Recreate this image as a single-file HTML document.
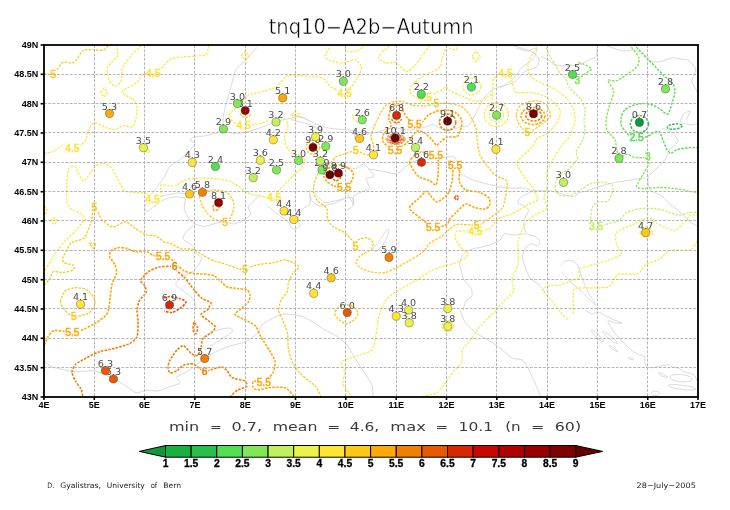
<!DOCTYPE html>
<html lang="en"><head><meta charset="utf-8"><title>tnq10-A2b-Autumn</title>
<style>
html,body{margin:0;padding:0;background:#fff;}
body{width:730px;height:510px;overflow:hidden;}
svg{display:block;}
.thin{font-family:"DejaVu Sans","Liberation Sans",sans-serif;}
.lib{font-family:"Liberation Sans","DejaVu Sans",sans-serif;}
.st{font-family:"DejaVu Sans","Liberation Sans",sans-serif;font-size:9.2px;fill:#4a4a4a;text-anchor:middle;}
.cl{font-family:"Liberation Sans","DejaVu Sans",sans-serif;font-weight:normal;font-size:10.2px;text-anchor:middle;stroke-width:0.55px;}
.ax{font-family:"Liberation Sans","DejaVu Sans",sans-serif;font-weight:bold;font-size:9px;fill:#000;}
.cb{font-family:"Liberation Sans","DejaVu Sans",sans-serif;font-weight:bold;font-size:10.3px;fill:#000;text-anchor:middle;}
.c{fill:none;stroke-dasharray:2.5 1.25;stroke-linecap:butt;stroke-linejoin:round;}
.g{fill:none;stroke:#cfcfcf;stroke-width:0.8;}
.grid{stroke:#b0b0b0;stroke-width:0.9;stroke-dasharray:2.8 1.5;fill:none;}
</style></head><body>
<svg width="730" height="510" viewBox="0 0 730 510">
<rect width="730" height="510" fill="#fff"/>
<defs><clipPath id="pc"><rect x="44" y="45" width="654" height="352"/></clipPath></defs>
<g clip-path="url(#pc)">
<path class="g" d="M257.0 47.4C255.7 48.8 248.3 57.1 245.9 59.7C243.5 62.3 237.6 67.0 236.0 69.6C234.4 72.2 233.3 78.6 232.3 82.0C231.3 85.4 228.4 95.3 227.4 99.0C226.4 102.7 224.3 110.8 223.7 114.0C223.1 117.2 223.2 123.8 222.5 126.0C221.8 128.2 219.7 131.3 217.5 132.5C215.3 133.7 206.9 135.4 204.0 136.0C201.1 136.6 194.6 136.8 193.0 137.4C191.4 138.0 190.1 140.3 190.4 141.0C190.7 141.7 195.4 142.4 195.3 143.6C195.2 144.8 191.1 149.1 189.2 151.0C187.3 152.9 181.6 158.1 179.3 160.0C177.0 161.9 171.1 165.0 169.4 167.0C167.7 169.0 165.9 174.7 164.5 177.0C163.1 179.3 158.7 184.7 157.0 187.0C155.3 189.3 151.1 194.7 149.7 197.0C148.3 199.3 145.1 205.0 144.8 206.7C144.5 208.4 145.9 211.9 147.3 211.6C148.7 211.3 155.9 204.9 157.0 204.0"/>
<path class="g" d="M227.4 132.5C228.7 132.6 235.5 134.0 238.5 133.7C241.5 133.4 249.9 131.0 253.3 130.0C256.7 129.0 265.1 126.0 268.0 125.0C270.9 124.0 275.7 121.7 278.0 121.0C280.3 120.3 285.2 119.5 287.8 119.0C290.4 118.5 297.4 116.1 300.0 116.4C302.6 116.7 308.8 120.8 310.0 121.4"/>
<path class="g" d="M290.0 114.7C291.7 115.1 301.6 117.3 304.7 118.4C307.8 119.5 314.1 123.4 317.0 124.5C319.9 125.6 326.4 127.6 329.3 128.2C332.2 128.8 338.7 129.1 341.6 129.4C344.5 129.7 351.4 130.1 354.0 130.7C356.6 131.3 360.9 134.2 363.8 134.4C366.7 134.6 375.3 132.7 378.6 132.0C381.9 131.3 388.3 128.2 392.0 128.0C395.7 127.8 406.1 130.1 410.0 130.0C413.9 129.9 422.8 127.6 425.5 127.0C428.2 126.4 430.9 124.2 432.9 124.5C434.9 124.8 440.4 128.8 442.7 129.4C445.0 130.0 450.6 129.7 452.6 129.4C454.6 129.1 458.0 127.6 460.0 127.0C462.0 126.4 467.2 127.4 470.0 124.0C472.8 120.6 481.0 102.2 484.0 98.0C487.0 93.8 492.5 89.8 496.0 88.0C499.5 86.2 510.4 84.6 513.7 82.7C517.0 80.8 521.3 73.9 524.0 72.0C526.7 70.1 535.3 68.4 537.0 66.7C538.7 65.0 539.5 59.7 538.6 57.8C537.7 55.9 533.0 52.2 529.7 50.7C526.4 49.2 512.3 45.7 510.0 45.0"/>
<path class="g" d="M291.0 119.6C293.2 120.2 306.0 123.2 309.6 124.5C313.2 125.8 320.6 130.0 322.0 130.7"/>
<path class="g" d="M354.0 134.4 L355.2 139.3"/>
<path class="g" d="M340.4 164.0C342.0 164.6 351.3 169.0 354.0 169.0C356.7 169.0 362.1 164.0 363.8 164.0C365.5 164.0 367.6 167.6 368.8 169.0C370.0 170.4 374.0 175.2 373.7 176.3C373.4 177.4 366.7 177.4 366.3 178.8C365.9 180.2 370.3 187.2 370.0 188.6C369.7 190.0 365.7 190.1 363.8 191.0C361.9 191.9 355.3 194.3 354.0 196.0C352.7 197.7 353.6 204.3 352.7 205.9C351.8 207.5 347.3 209.5 346.6 210.0"/>
<path class="g" d="M368.8 169.0C370.5 169.3 380.4 170.8 383.6 171.4C386.8 172.0 393.6 174.1 395.9 173.8C398.2 173.5 401.3 170.4 403.3 169.0C405.3 167.6 410.1 162.7 413.0 161.5C415.9 160.3 424.5 159.4 428.0 159.0C431.5 158.6 439.6 158.0 442.7 157.8C445.8 157.6 452.8 155.7 454.8 157.4C456.8 159.1 457.7 169.4 459.7 172.0C461.7 174.6 468.5 178.1 472.0 179.6C475.5 181.1 485.3 183.5 489.3 184.5C493.3 185.5 502.6 187.6 506.6 188.0C510.6 188.4 520.6 187.7 523.8 188.0C527.0 188.3 530.8 190.4 533.7 190.7C536.6 191.0 545.9 190.5 548.5 190.7C551.1 190.9 554.2 191.6 555.9 192.0C557.6 192.4 561.1 193.8 563.3 194.4C565.5 195.0 572.7 197.0 574.4 196.8C576.1 196.6 576.4 193.7 578.0 193.0C579.6 192.3 585.7 191.4 588.0 190.7C590.3 190.0 594.9 187.9 597.8 187.0C600.7 186.1 608.8 183.8 612.6 183.0C616.4 182.2 626.2 180.6 630.0 180.0C633.8 179.4 643.2 178.2 645.0 178.0"/>
<path class="g" d="M309.6 193.6C309.9 194.5 310.9 199.6 312.0 201.0C313.1 202.4 316.8 205.6 319.4 205.9C322.0 206.2 331.3 204.3 334.2 203.4C337.1 202.5 342.9 199.1 344.0 198.5"/>
<path class="g" d="M159.6 196.8C160.7 196.5 167.1 194.8 169.4 194.4C171.7 194.0 177.3 193.0 179.3 193.0C181.3 193.0 186.0 193.8 186.7 194.4C187.4 195.0 186.7 197.7 185.5 198.0C184.3 198.3 179.2 196.6 176.8 196.8C174.4 197.0 167.1 198.1 164.5 199.3C161.9 200.5 155.8 205.8 154.7 206.7"/>
<path class="g" d="M185.5 199.3C185.3 200.5 183.8 206.9 184.2 209.2C184.6 211.5 187.9 217.3 189.2 219.0C190.5 220.7 193.6 223.1 195.3 224.0C197.0 224.9 201.8 226.4 204.0 226.4C206.2 226.4 211.5 224.6 213.8 224.0C216.1 223.4 221.4 221.5 223.7 221.5C226.0 221.5 231.3 224.1 233.6 224.0C235.9 223.9 241.4 221.5 243.4 220.3C245.4 219.1 250.2 215.6 250.8 214.0C251.4 212.4 247.7 208.4 248.3 206.7C248.9 205.0 254.3 200.7 255.7 199.3C257.1 197.9 260.1 195.0 260.7 194.4"/>
<path class="g" d="M195.3 224.0C194.3 224.9 188.1 229.7 186.7 231.4C185.3 233.1 182.3 237.1 183.0 238.8C183.7 240.5 191.3 244.5 192.9 246.2C194.5 247.9 195.6 252.2 196.6 253.6C197.6 255.0 201.4 257.1 201.5 258.5C201.6 259.9 198.9 264.3 197.8 265.9C196.7 267.5 194.1 270.6 192.0 272.0C189.9 273.4 181.9 276.5 180.0 278.0C178.1 279.5 175.3 283.2 176.0 285.0C176.7 286.8 183.9 291.2 186.0 293.0C188.1 294.8 192.8 298.2 194.0 300.0C195.2 301.8 195.8 307.1 196.0 308.0"/>
<path class="g" d="M266.8 205.5C268.1 206.5 275.4 212.1 277.9 214.0C280.3 215.9 286.1 219.8 287.8 221.5C289.5 223.2 291.3 228.4 292.7 229.0C294.1 229.6 299.4 227.6 300.0 226.4C300.6 225.2 297.4 221.0 297.7 219.0C298.0 217.0 301.2 210.8 302.6 209.0C304.0 207.2 309.2 206.2 310.0 204.0C310.8 201.8 309.6 191.6 309.6 190.0"/>
<path class="g" d="M314.5 192.5C315.7 193.6 321.5 201.4 324.4 202.3C327.3 203.2 336.0 200.5 339.2 199.9C342.4 199.3 349.8 196.8 351.5 197.4C353.2 198.0 354.6 205.4 354.0 204.8C353.4 204.2 347.5 193.9 346.6 192.5"/>
<path class="g" d="M372.5 249.0C373.2 248.2 376.9 244.1 378.6 241.8C380.3 239.5 386.0 230.4 387.2 229.4C388.4 228.4 388.9 231.3 388.5 233.0C388.1 234.7 385.1 241.8 383.6 244.0C382.1 246.2 377.3 251.0 376.0 251.6C374.7 252.2 372.9 249.3 372.5 249.0"/>
<path class="g" d="M533.7 190.7C532.3 191.4 523.3 195.4 521.4 196.8C519.5 198.2 517.4 202.0 517.7 203.0C518.0 204.0 522.5 204.6 523.8 205.5C525.1 206.4 528.7 209.0 528.8 210.4C528.9 211.8 525.6 216.2 525.0 217.8C524.4 219.4 523.6 222.1 523.8 224.0C524.0 225.9 525.0 232.4 526.3 233.8C527.6 235.2 533.4 235.4 535.0 236.3C536.6 237.2 539.6 240.1 539.9 241.2C540.2 242.3 538.4 245.7 537.4 246.0C536.4 246.3 532.6 243.4 531.2 243.7C529.8 244.0 526.0 246.9 525.0 248.6C524.0 250.3 522.4 256.0 522.6 258.5C522.8 261.0 525.4 267.7 526.3 270.0C527.2 272.3 528.6 276.4 530.0 278.0C531.4 279.6 536.2 282.4 538.0 284.0C539.8 285.6 544.2 291.1 545.0 292.0"/>
<path class="g" d="M525.0 233.8C523.7 233.9 516.5 235.0 514.0 235.0C511.6 235.0 505.6 233.2 504.0 233.8C502.4 234.4 502.1 238.7 500.4 240.0C498.7 241.3 492.3 244.0 489.3 245.0C486.3 246.0 477.1 247.9 474.5 248.6C471.9 249.3 468.4 250.1 467.0 251.0C465.6 251.9 463.1 254.6 462.2 256.0C461.3 257.4 459.8 261.8 459.7 263.4C459.6 265.0 460.5 268.1 461.0 270.0C461.5 271.9 462.8 277.9 464.0 280.0C465.2 282.1 470.1 286.1 471.0 288.0C471.9 289.9 472.6 294.5 472.0 296.0C471.4 297.5 467.1 299.4 466.0 301.0C464.9 302.6 463.4 308.9 463.0 310.0"/>
<path class="g" d="M560.8 265.9C561.4 265.3 564.3 261.6 565.7 261.0C567.1 260.4 571.6 260.4 573.0 261.0C574.4 261.6 577.0 263.9 578.0 265.9C579.0 267.9 580.8 275.0 582.0 278.0C583.2 281.0 586.4 288.9 588.0 292.0C589.6 295.1 595.8 304.1 596.0 305.0C596.2 305.9 591.9 301.8 590.0 300.0C588.1 298.2 582.3 292.1 580.0 290.0C577.7 287.9 572.1 284.1 570.0 282.0C567.9 279.9 562.9 273.2 562.0 272.0"/>
<path class="g" d="M460.0 310.0C460.6 311.4 463.1 319.3 465.0 322.0C466.9 324.7 473.3 330.9 476.0 333.0C478.7 335.1 485.2 338.2 488.0 340.0C490.8 341.8 497.2 345.9 500.0 348.0C502.8 350.1 509.4 356.6 512.0 358.0C514.6 359.4 520.1 358.8 522.0 360.0C523.9 361.2 526.5 365.3 528.0 368.0C529.5 370.7 533.5 379.6 535.0 383.0C536.5 386.4 540.3 395.4 541.0 397.0"/>
<path class="g" d="M45.0 361.6C45.9 362.2 49.4 365.9 52.5 367.0C55.6 368.1 68.5 370.9 72.0 371.4C75.5 371.9 80.0 371.4 82.7 371.4C85.4 371.4 91.8 370.3 95.0 371.0C98.2 371.7 106.4 375.3 110.0 377.0C113.6 378.7 122.5 383.9 125.5 385.7C128.5 387.5 133.5 392.3 136.0 392.8C138.5 393.3 144.4 390.2 146.9 390.0C149.4 389.8 154.8 391.4 157.5 391.0C160.2 390.6 167.4 387.5 170.0 386.6C172.6 385.7 179.2 384.1 180.0 383.0C180.8 381.9 175.8 378.5 177.0 377.0C178.2 375.5 187.3 371.8 190.0 370.0C192.7 368.2 197.1 364.1 200.0 362.0C202.9 359.9 211.5 353.9 215.0 352.0C218.5 350.1 226.5 347.2 230.0 346.0C233.5 344.8 241.7 343.5 245.0 342.0C248.3 340.5 256.0 335.0 258.0 333.0C260.0 331.0 260.0 326.9 262.0 325.0C264.0 323.1 272.3 318.3 275.0 317.0C277.7 315.7 282.1 314.1 285.0 314.0C287.9 313.9 297.1 315.3 300.0 316.0C302.9 316.7 307.1 318.4 310.0 320.0C312.9 321.6 321.9 328.1 325.0 330.0C328.1 331.9 334.4 334.2 337.0 336.0C339.6 337.8 344.8 342.2 347.0 345.0C349.2 347.8 354.0 356.9 356.0 360.0C358.0 363.1 362.1 369.1 364.0 372.0C365.9 374.9 370.9 382.1 372.0 385.0C373.1 387.9 372.9 395.6 373.0 397.0"/>
<path class="g" d="M205.0 350.0C206.8 348.8 216.8 342.1 220.0 340.0C223.2 337.9 230.8 333.4 232.0 332.0C233.2 330.6 231.6 328.2 230.0 328.0C228.4 327.8 220.9 329.1 218.0 330.0C215.1 330.9 207.3 334.6 205.0 336.0C202.7 337.4 198.8 341.3 198.0 342.0"/>
<path class="g" d="M585.0 310.0C585.8 310.5 590.5 313.8 592.0 314.0C593.5 314.2 596.4 311.8 598.0 312.0C599.6 312.2 604.1 315.1 606.0 316.0C607.9 316.9 612.1 319.2 614.0 320.0C615.9 320.8 621.8 322.6 622.0 323.0C622.2 323.4 617.6 323.2 616.0 323.0C614.4 322.8 608.4 320.2 608.0 321.0C607.6 321.8 611.2 327.9 612.6 330.0C614.0 332.1 618.1 336.9 620.0 339.0C621.9 341.1 627.2 346.4 629.0 348.0C630.8 349.6 633.2 351.6 635.0 352.6C636.8 353.7 642.8 355.8 644.0 357.0C645.2 358.2 644.6 361.8 645.0 363.0C645.4 364.2 646.1 366.5 647.0 367.0C647.9 367.5 651.4 367.8 653.0 367.7C654.6 367.6 659.0 366.4 660.8 366.0C662.6 365.6 667.1 364.6 668.4 364.7C669.7 364.8 671.0 366.6 672.0 367.0C673.0 367.4 676.1 367.2 677.4 367.7C678.7 368.2 681.5 370.5 683.4 371.4C685.3 372.3 692.4 373.9 694.0 375.0C695.6 376.1 696.6 380.3 697.0 381.0"/>
<path class="g" d="M692.4 379.3C692.2 379.5 691.4 380.7 690.8 381.0C690.1 381.3 687.7 381.8 686.5 381.9C685.4 382.0 682.2 381.9 680.8 381.8C679.5 381.7 676.4 381.1 675.3 380.7C674.2 380.4 671.9 379.4 671.3 379.0C670.7 378.6 669.9 377.5 670.0 377.1C670.0 376.7 671.0 375.7 671.6 375.4C672.3 375.1 674.7 374.6 675.9 374.5C677.0 374.4 680.2 374.5 681.6 374.6C682.9 374.7 686.0 375.3 687.1 375.7C688.2 376.0 690.5 377.0 691.1 377.4C691.7 377.8 692.3 379.1 692.4 379.3"/>
<path class="g" d="M667.2 377.2C667.0 377.2 666.1 377.4 665.5 377.2C665.0 377.1 663.0 376.3 662.2 376.0C661.5 375.6 659.6 374.5 659.2 374.2C658.7 373.8 658.1 373.0 658.2 372.8C658.3 372.7 659.3 372.6 659.9 372.8C660.4 372.9 662.4 373.7 663.2 374.0C663.9 374.4 665.8 375.5 666.2 375.8C666.7 376.2 667.1 377.0 667.2 377.2"/>
<path class="g" d="M695.9 389.1C695.6 389.2 694.7 389.8 693.9 389.9C693.1 390.0 690.1 390.0 688.7 389.9C687.3 389.9 683.4 389.5 681.7 389.3C680.1 389.1 676.2 388.4 674.8 388.1C673.4 387.8 670.6 387.0 669.8 386.7C669.1 386.4 668.1 385.7 668.1 385.5C668.1 385.3 669.3 384.8 670.1 384.7C670.9 384.6 673.9 384.6 675.3 384.7C676.7 384.7 680.6 385.1 682.3 385.3C683.9 385.5 687.8 386.2 689.2 386.5C690.6 386.8 693.4 387.6 694.2 387.9C694.9 388.2 695.7 389.0 695.9 389.1"/>
<path class="g" d="M659.7 393.3C659.6 393.5 659.0 394.6 658.5 394.9C658.0 395.1 656.2 395.5 655.5 395.5C654.8 395.5 653.0 395.1 652.5 394.9C652.0 394.6 651.3 393.7 651.3 393.3C651.3 392.9 652.0 392.0 652.5 391.7C653.0 391.5 654.8 391.1 655.5 391.1C656.2 391.1 658.0 391.5 658.5 391.7C659.0 392.0 659.6 393.1 659.7 393.3"/>
<path class="g" d="M603.5 342.0C603.2 341.9 601.8 341.6 601.0 341.0C600.1 340.5 597.4 338.1 596.4 337.1C595.4 336.2 593.0 333.4 592.4 332.6C591.9 331.7 591.3 330.2 591.5 330.0C591.6 329.8 593.2 330.4 594.0 331.0C594.9 331.5 597.6 333.9 598.6 334.9C599.6 335.8 602.0 338.6 602.6 339.4C603.1 340.3 603.4 341.7 603.5 342.0"/>
<path class="g" d="M617.4 343.5C617.1 343.4 615.5 343.2 614.5 342.6C613.5 342.1 610.2 339.7 609.0 338.7C607.8 337.8 604.8 335.0 604.1 334.2C603.3 333.3 602.4 331.7 602.6 331.5C602.8 331.3 604.5 331.8 605.5 332.4C606.5 332.9 609.8 335.3 611.0 336.3C612.2 337.2 615.2 340.0 615.9 340.8C616.7 341.7 617.2 343.2 617.4 343.5"/>
<path class="g" d="M618.0 351.9C617.8 351.9 616.9 351.8 616.4 351.5C615.8 351.2 613.7 350.1 613.0 349.5C612.2 349.0 610.4 347.6 609.9 347.1C609.5 346.7 608.9 345.8 609.0 345.7C609.0 345.6 610.1 345.8 610.6 346.1C611.2 346.4 613.3 347.5 614.0 348.1C614.8 348.6 616.6 350.0 617.1 350.5C617.5 350.9 617.9 351.7 618.0 351.9"/>
<path class="g" d="M633.7 359.4C633.5 359.4 632.6 359.7 632.2 359.6C631.7 359.5 629.9 359.0 629.5 358.8C629.0 358.6 628.3 357.9 628.3 357.8C628.4 357.6 629.4 357.5 629.8 357.6C630.3 357.7 632.1 358.2 632.5 358.4C633.0 358.6 633.5 359.3 633.7 359.4"/>
<path class="g" d="M516.4 48.2C517.7 48.5 525.0 51.0 527.4 51.0C529.8 51.0 536.4 47.1 537.0 48.0C537.6 48.9 534.6 56.7 532.9 59.0C531.1 61.3 524.2 65.1 522.0 67.4C519.8 69.7 516.3 76.0 513.7 78.4C511.1 80.8 501.6 86.9 500.0 88.0"/>
<path class="g" d="M541.0 56.4C542.0 56.9 547.7 59.5 549.3 60.5C550.9 61.5 552.9 64.1 554.8 64.7C556.7 65.3 562.9 66.0 565.8 66.0C568.7 66.0 576.9 65.3 579.5 64.7C582.1 64.1 585.8 61.5 587.7 60.5C589.6 59.5 594.8 58.1 595.9 56.4C597.0 54.7 597.1 47.2 597.3 46.0"/>
<path class="g" d="M606.8 46.0C608.7 46.6 619.9 50.5 623.3 51.0C626.7 51.5 633.1 48.9 636.0 50.0C638.9 51.1 645.3 59.1 648.0 60.5C650.7 61.9 656.1 62.3 659.0 62.0C661.9 61.7 670.1 58.1 672.6 57.8C675.1 57.4 678.9 58.7 680.8 59.0C682.7 59.3 687.2 59.2 689.0 60.5C690.8 61.8 695.6 67.6 695.9 70.0C696.2 72.4 691.8 78.7 691.8 81.0C691.8 83.3 695.1 87.7 695.9 89.3C696.7 90.9 698.6 94.3 699.0 95.0"/>
<path class="g" d="M686.3 119.5C686.8 118.5 690.7 111.6 690.4 111.0C690.1 110.4 684.7 112.7 683.6 114.0C682.5 115.3 679.8 120.7 680.8 122.0C681.8 123.3 689.7 124.9 691.8 125.0C693.9 125.1 698.2 123.2 699.0 123.0"/>
<path class="g" d="M661.6 127.7C662.9 128.3 670.7 131.4 672.6 133.0C674.5 134.6 678.3 139.5 678.0 141.4C677.7 143.3 671.5 147.4 669.9 149.6C668.3 151.8 666.1 158.1 664.4 160.5C662.7 162.9 656.9 168.0 655.0 170.0C653.1 172.0 648.6 175.7 648.0 178.0C647.4 180.3 648.4 187.9 650.0 190.0C651.6 192.1 659.7 194.4 662.0 196.0C664.3 197.6 667.9 202.1 670.0 204.0C672.1 205.9 677.7 209.9 680.0 212.0C682.3 214.1 688.0 220.4 690.0 222.0C692.0 223.6 696.2 225.5 697.0 226.0"/>
<path class="c" stroke="#FFC818" stroke-width="1.3" d="M44.0 74.0C45.1 74.0 51.3 74.7 53.0 74.0C54.7 73.3 56.6 69.9 57.8 68.5C59.0 67.1 61.1 63.0 63.0 62.3C64.9 61.6 71.6 63.7 74.0 62.3C76.4 60.9 80.4 52.2 82.7 50.7C85.0 49.2 91.0 49.8 93.4 49.8C95.8 49.8 101.3 50.7 103.0 50.3C104.7 49.9 107.0 47.0 107.7 46.2C108.4 45.4 108.8 44.3 109.0 44.0"/>
<path class="c" stroke="#FFC818" stroke-width="1.3" d="M44.0 285.0C44.7 284.3 48.7 280.4 49.8 278.8C50.9 277.2 51.8 272.4 53.4 271.6C55.0 270.8 60.6 272.7 63.0 272.5C65.4 272.3 71.7 270.9 73.0 270.0C74.3 269.1 74.9 266.3 73.8 265.4C72.7 264.5 65.3 263.7 64.0 262.7C62.7 261.7 62.2 259.8 63.0 257.4C63.8 255.0 68.4 245.4 71.0 243.0C73.6 240.6 82.0 240.6 84.5 237.8C87.0 235.0 90.6 223.1 91.6 220.0C92.6 216.9 92.2 213.6 92.5 212.0C92.8 210.4 93.5 206.8 94.3 207.0C95.1 207.2 97.8 212.1 98.8 213.7C99.8 215.3 100.6 218.4 102.3 220.0C104.0 221.6 110.2 226.8 113.0 227.0C115.8 227.2 122.7 221.6 125.5 221.8C128.3 222.0 133.4 227.4 136.0 229.0C138.6 230.6 144.5 234.2 146.9 235.0C149.3 235.8 153.7 235.1 155.8 236.0C157.9 236.9 163.0 241.5 164.7 242.3C166.4 243.1 168.1 242.3 170.0 243.0C171.9 243.7 177.9 247.7 180.7 248.5C183.5 249.3 190.2 248.5 193.0 249.4C195.8 250.3 201.2 254.2 203.8 255.6C206.4 257.0 211.7 259.9 214.5 261.0C217.3 262.1 224.0 263.5 227.0 264.5C230.0 265.5 237.3 268.5 239.5 269.0C241.7 269.5 243.9 269.2 245.2 269.0C246.5 268.8 248.3 267.5 250.0 267.0C251.7 266.5 256.2 265.0 259.0 264.5C261.8 264.0 270.3 263.2 273.3 262.7C276.3 262.2 281.6 260.0 284.0 260.0C286.4 260.0 291.2 261.9 293.0 262.7C294.8 263.5 299.0 265.7 299.0 267.0C299.0 268.3 294.3 271.6 293.0 273.4C291.7 275.2 289.1 280.2 288.4 282.3C287.7 284.4 288.4 288.9 287.5 291.0C286.6 293.1 282.4 297.7 281.3 300.0C280.2 302.3 278.5 307.7 278.6 310.0C278.7 312.3 281.1 316.2 282.2 319.0C283.3 321.8 286.8 329.4 287.5 333.0C288.2 336.6 287.7 345.4 288.4 349.0C289.1 352.6 291.6 360.5 293.0 363.4C294.4 366.3 298.1 370.9 300.0 373.0C301.9 375.1 307.1 379.4 309.0 381.0C310.9 382.6 314.6 384.9 316.0 386.6C317.4 388.3 319.9 394.0 320.5 395.5C321.1 397.0 320.9 398.6 321.0 399.0"/>
<path class="c" stroke="#FFC818" stroke-width="1.3" d="M60.5 302.0C60.5 299.7 63.2 292.7 65.0 291.0C66.8 289.3 73.0 287.9 75.6 287.7C78.2 287.5 84.2 288.4 86.3 289.5C88.4 290.6 92.3 294.9 93.4 296.6C94.5 298.3 95.4 302.1 95.2 303.7C95.0 305.3 92.5 308.8 91.6 310.0C90.7 311.2 89.5 312.9 88.0 313.6C86.5 314.3 80.7 315.7 79.0 316.0C77.3 316.3 75.0 316.4 73.8 316.2C72.6 316.0 70.5 315.2 69.4 314.5C68.3 313.8 66.1 311.5 65.0 310.0C63.9 308.5 60.5 304.3 60.5 302.0Z"/>
<path class="c" stroke="#FFC818" stroke-width="1.3" d="M199.4 196.0C199.5 197.5 201.1 203.0 202.0 205.0C202.9 207.0 205.6 211.3 207.0 213.0C208.4 214.7 212.3 217.9 214.0 219.0C215.7 220.1 219.7 221.4 221.0 221.8C222.3 222.2 224.2 222.6 225.2 222.3C226.2 222.0 228.1 220.5 229.0 219.5C229.9 218.5 231.7 215.5 232.3 213.7C232.9 211.9 234.1 206.7 234.0 204.8C233.9 202.9 232.2 199.2 231.4 197.7C230.6 196.2 228.6 193.2 227.0 192.3C225.4 191.4 220.3 190.5 218.0 190.3C215.7 190.1 210.0 190.0 208.0 190.3C206.0 190.6 202.5 191.8 201.5 192.5C200.5 193.2 199.3 194.5 199.4 196.0Z"/>
<path class="c" stroke="#FFC818" stroke-width="1.3" d="M355.6 151.0C354.6 150.9 353.1 151.2 351.6 151.6C350.1 152.0 344.6 153.9 342.7 154.5C340.8 155.1 336.7 156.2 335.4 157.0C334.1 157.8 333.1 160.0 332.0 161.2C330.9 162.4 327.7 165.5 326.0 167.0C324.3 168.5 319.5 171.7 318.2 173.5C316.9 175.3 315.4 179.4 314.8 181.7C314.2 184.0 313.0 190.0 313.4 192.3C313.8 194.6 316.2 199.1 317.8 201.0C319.4 202.9 325.5 206.1 326.7 208.4C327.9 210.7 326.7 217.8 327.6 220.0C328.5 222.2 331.8 225.5 333.8 227.0C335.8 228.5 342.4 231.0 344.5 232.5C346.6 234.0 350.3 238.3 351.6 239.6C352.9 240.9 354.1 243.5 355.0 243.5C355.9 243.5 357.4 240.3 358.8 239.6C360.2 238.9 365.1 237.5 366.8 237.8C368.5 238.1 372.5 240.9 373.0 242.3C373.5 243.7 372.5 247.8 371.0 249.4C369.5 251.0 362.3 254.0 360.5 255.6C358.7 257.2 355.8 261.1 356.0 262.7C356.2 264.3 360.0 267.8 362.3 269.0C364.6 270.2 372.0 272.1 374.8 272.5C377.6 272.9 383.0 273.0 385.5 272.5C388.0 272.0 393.0 269.5 396.0 268.0C399.0 266.5 407.2 261.9 410.4 260.0C413.6 258.1 420.5 254.0 422.9 252.0C425.3 250.0 427.9 244.8 430.0 243.0C432.1 241.2 438.3 238.7 440.7 237.0C443.1 235.3 447.7 230.5 449.6 229.0C451.5 227.5 454.1 225.0 456.7 224.5C459.3 224.0 468.6 224.9 471.0 225.0C473.4 225.1 475.4 225.5 476.7 225.3C478.0 225.1 480.4 224.2 481.6 223.6C482.8 223.0 485.3 221.2 487.0 220.0C488.7 218.8 494.0 215.3 495.9 213.7C497.8 212.1 501.7 209.4 503.0 206.6C504.3 203.8 506.2 193.6 506.6 190.5C507.0 187.4 507.9 182.6 506.6 180.8C505.3 179.0 498.3 177.2 495.9 175.4C493.5 173.6 488.9 168.0 487.0 165.6C485.1 163.2 481.1 158.0 479.9 155.0C478.7 152.0 477.6 143.7 477.2 140.7C476.8 137.7 476.8 132.5 476.3 130.0C475.8 127.5 473.9 122.3 472.7 120.0C471.5 117.7 467.7 112.1 466.3 110.5C464.9 108.9 462.5 107.3 460.9 106.5C459.3 105.7 454.9 104.2 452.6 103.8C450.3 103.4 444.1 103.2 441.6 103.3C439.1 103.4 434.1 104.2 432.0 104.5C429.9 104.8 426.1 105.8 423.8 105.9C421.5 106.0 415.3 105.7 412.8 105.2C410.3 104.7 405.3 101.9 403.2 101.5C401.1 101.1 396.9 101.2 395.0 101.5C393.1 101.8 388.8 103.3 387.2 104.4C385.6 105.5 383.1 108.6 381.8 110.7C380.5 112.8 377.4 119.2 376.3 121.6C375.2 124.0 373.0 129.2 372.4 131.0C371.8 132.8 370.9 135.5 371.0 137.0C371.1 138.5 372.7 142.0 373.0 143.6C373.3 145.2 374.2 148.6 373.6 150.0C373.0 151.4 369.3 154.7 367.7 155.0C366.1 155.3 361.5 152.7 360.0 152.2C358.5 151.7 356.6 151.1 355.6 151.0Z"/>
<path class="c" stroke="#FFC818" stroke-width="1.3" d="M334.7 313.6C334.7 315.0 336.9 317.8 338.3 319.0C339.7 320.2 344.3 324.0 346.3 324.0C348.3 324.0 353.6 320.2 355.0 319.0C356.4 317.8 357.9 314.9 357.9 313.6C357.9 312.3 356.3 309.1 355.0 308.0C353.7 306.9 349.0 304.6 347.0 304.5C345.0 304.4 339.5 306.4 338.0 307.5C336.5 308.6 334.7 312.2 334.7 313.6Z"/>
<path class="c" stroke="#FFC818" stroke-width="1.3" d="M516.3 114.7C516.5 113.0 517.6 108.5 519.0 107.0C520.4 105.5 525.6 102.7 528.0 102.0C530.4 101.3 536.7 100.6 539.0 101.0C541.3 101.4 545.6 103.9 547.0 105.5C548.4 107.1 550.3 113.1 550.5 114.7C550.7 116.3 549.6 117.7 548.5 118.8C547.4 119.9 543.5 122.8 541.6 124.2C539.7 125.6 534.4 129.4 532.7 130.4C531.0 131.4 528.7 132.7 527.3 132.3C525.9 131.9 522.2 128.4 521.0 127.0C519.8 125.6 518.1 122.5 517.5 121.0C516.9 119.5 516.1 116.4 516.3 114.7Z"/>
<path class="c" stroke="#FFC818" stroke-width="1.3" d="M319.8 147.4C319.8 148.4 319.1 150.6 318.5 151.4C317.9 152.2 316.0 153.6 315.1 153.9C314.2 154.2 311.8 154.2 310.9 153.9C310.0 153.6 308.1 152.2 307.5 151.4C306.9 150.6 306.2 148.4 306.2 147.4C306.2 146.4 306.9 144.2 307.5 143.4C308.1 142.6 310.0 141.2 310.9 140.9C311.8 140.6 314.2 140.6 315.1 140.9C316.0 141.2 317.9 142.6 318.5 143.4C319.1 144.2 319.8 146.4 319.8 147.4Z"/>
<path class="c" stroke="#FFE534" stroke-width="1.2" d="M116.4 44.0C116.4 44.2 116.5 44.6 116.6 46.0C116.7 47.4 118.6 53.5 117.5 56.0C116.4 58.5 108.8 63.9 107.7 66.7C106.6 69.5 107.7 76.8 108.6 79.2C109.5 81.6 113.3 86.1 114.8 86.3C116.3 86.5 120.0 83.4 121.0 81.0C122.0 78.6 121.4 69.9 122.8 66.7C124.2 63.5 130.4 56.8 132.6 54.2C134.8 51.6 140.4 46.2 141.5 45.0C142.6 43.8 141.9 44.1 142.0 44.0"/>
<path class="c" stroke="#FFE534" stroke-width="1.2" d="M44.0 153.0C45.2 152.8 51.7 152.4 54.0 151.4C56.3 150.4 60.8 145.4 63.0 145.0C65.2 144.6 70.2 147.8 72.4 147.8C74.6 147.8 79.3 146.1 81.0 145.0C82.7 143.9 85.5 140.8 86.3 139.0C87.1 137.2 87.0 131.9 88.0 130.0C89.0 128.1 93.1 123.2 95.0 122.8C96.9 122.4 101.6 126.2 104.0 127.0C106.4 127.8 112.4 129.7 114.8 129.5C117.2 129.3 121.6 125.8 123.7 125.5C125.8 125.2 131.1 127.9 132.6 127.0C134.1 126.1 135.5 120.3 136.0 118.0C136.5 115.7 137.2 109.8 137.0 107.7C136.8 105.6 136.1 102.2 134.4 100.5C132.7 98.8 124.1 94.7 122.8 93.4C121.5 92.1 122.1 91.2 123.7 90.0C125.3 88.8 133.7 84.9 136.0 83.0C138.3 81.1 141.0 75.2 143.0 74.0C145.0 72.8 150.8 73.7 153.0 73.0C155.2 72.3 159.0 70.1 161.0 68.5C163.0 66.9 167.6 61.0 170.0 59.6C172.4 58.2 177.7 57.4 180.7 57.0C183.7 56.6 192.0 56.2 195.0 56.0C198.0 55.8 204.0 55.8 205.6 55.0C207.2 54.2 207.9 50.3 208.3 49.0C208.7 47.7 208.9 44.6 209.0 44.0"/>
<path class="c" stroke="#FFE534" stroke-width="1.2" d="M330.0 44.0C329.9 44.5 330.0 46.6 329.4 48.0C328.8 49.4 324.9 54.5 325.0 56.0C325.1 57.5 327.9 59.7 330.0 60.5C332.1 61.3 339.7 63.1 342.7 63.0C345.7 62.9 352.8 59.2 355.0 59.6C357.2 60.0 360.9 64.8 361.4 66.7C361.9 68.6 360.0 73.2 358.8 75.6C357.6 78.0 353.3 84.2 351.6 86.3C349.9 88.4 346.3 93.0 344.5 93.4C342.7 93.8 338.2 90.8 336.5 89.9C334.8 89.0 331.6 87.7 330.0 86.3C328.4 84.9 325.3 79.5 323.0 78.3C320.7 77.1 313.5 76.8 310.7 76.5C307.9 76.2 302.8 75.7 300.0 75.6C297.2 75.5 290.3 74.3 287.5 75.6C284.7 76.9 279.9 84.4 276.9 86.3C273.9 88.2 266.0 90.5 262.6 91.6C259.2 92.7 251.1 93.7 248.4 95.2C245.7 96.7 242.4 101.5 240.0 104.0C237.6 106.5 229.3 113.3 228.8 115.7C228.3 118.1 234.1 122.5 235.9 123.7C237.7 124.9 241.6 125.4 243.5 125.5C245.4 125.6 249.7 124.9 252.0 124.6C254.3 124.3 260.5 123.4 262.6 122.8C264.7 122.2 268.8 120.3 269.7 120.0"/>
<path class="c" stroke="#FFE534" stroke-width="1.2" d="M284.0 118.4C284.5 119.1 287.4 122.6 287.8 124.0C288.2 125.4 287.4 128.7 287.0 130.0C286.6 131.3 284.8 133.4 284.6 135.0C284.4 136.6 284.9 141.6 285.3 143.3C285.7 145.0 287.1 148.3 288.0 149.5C288.9 150.7 291.6 152.8 293.0 153.5C294.4 154.2 298.6 154.8 300.0 155.5C301.4 156.2 304.1 158.2 304.5 159.5C304.9 160.8 304.4 164.0 303.0 166.0C301.6 168.0 295.2 173.8 292.8 176.2C290.4 178.6 284.9 184.2 283.2 185.9C281.5 187.6 279.7 189.1 278.6 190.5C277.5 191.9 275.5 196.9 274.0 197.7C272.5 198.5 268.4 197.1 266.0 196.8C263.6 196.5 256.2 195.6 253.7 195.0C251.2 194.4 246.5 192.4 244.8 191.4C243.1 190.4 241.2 188.2 239.5 187.0C237.8 185.8 233.2 182.6 230.6 181.6C228.0 180.6 221.4 179.4 218.0 179.0C214.6 178.6 205.6 178.0 202.0 178.0C198.4 178.0 190.1 178.6 187.8 179.0C185.5 179.4 183.8 180.9 182.5 181.6C181.2 182.3 178.5 184.5 177.0 185.0C175.5 185.5 171.9 186.0 170.0 186.0C168.1 186.0 162.1 183.8 161.0 185.0C159.9 186.2 162.0 194.3 161.0 196.0C160.0 197.7 154.4 199.9 152.5 199.5C150.6 199.1 148.2 194.0 145.0 193.0C141.8 192.0 128.7 193.0 125.5 191.4C122.3 189.8 120.1 182.9 118.4 180.0C116.7 177.1 112.8 169.4 111.0 167.4C109.2 165.4 104.9 163.1 103.0 163.0C101.1 162.9 97.3 164.4 95.0 166.5C92.7 168.6 86.0 180.8 83.6 180.8C81.2 180.8 76.5 167.9 74.7 166.5C72.9 165.1 69.5 167.0 68.5 169.0C67.5 171.0 66.9 179.6 66.7 183.4C66.5 187.2 66.2 197.9 66.7 201.0C67.2 204.1 69.3 207.5 71.0 209.0C72.7 210.5 79.3 212.5 81.0 213.7C82.7 214.9 85.2 218.0 85.4 219.0C85.6 220.0 83.9 220.6 82.7 222.0C81.5 223.4 78.0 228.2 75.6 230.7C73.2 233.2 65.6 240.0 63.0 243.0C60.4 246.0 56.3 252.1 54.0 255.6C51.7 259.1 45.2 270.0 44.0 272.0"/>
<path class="c" stroke="#FFE534" stroke-width="1.2" d="M342.7 44.0C343.3 44.9 346.3 50.8 348.0 51.6C349.7 52.4 355.1 51.4 357.0 50.7C358.9 50.0 363.0 46.8 364.0 46.0C365.0 45.2 364.9 44.2 365.0 44.0"/>
<path class="c" stroke="#FFE534" stroke-width="1.2" d="M392.6 44.0C391.5 44.8 385.4 49.0 383.7 50.7C382.0 52.4 378.2 56.3 378.4 57.8C378.6 59.3 383.4 62.4 385.5 63.0C387.6 63.6 393.5 62.0 396.0 63.0C398.5 64.0 404.3 71.4 406.7 71.6C409.1 71.8 413.7 66.7 415.6 64.7C417.5 62.7 420.8 57.2 422.4 55.0C424.0 52.8 428.4 47.5 429.3 46.2C430.2 44.9 429.9 44.3 430.0 44.0"/>
<path class="c" stroke="#FFE534" stroke-width="1.2" d="M458.5 44.0C458.2 44.7 457.0 49.0 456.0 49.5C455.0 50.0 451.2 48.8 450.0 48.5C448.8 48.2 447.3 45.9 446.4 47.0C445.5 48.1 442.9 55.7 442.3 57.8C441.7 59.9 441.6 63.3 441.0 64.7C440.4 66.1 439.2 68.3 437.5 69.5C435.8 70.7 429.2 72.9 426.6 74.3C424.0 75.7 417.5 79.7 415.6 81.2C413.7 82.7 411.5 85.3 410.8 86.6C410.1 87.9 409.6 90.8 410.0 92.0C410.4 93.2 412.9 95.4 414.2 96.2C415.5 97.0 419.5 98.1 421.0 98.3C422.5 98.5 425.7 98.2 427.0 97.8C428.3 97.4 430.2 95.8 432.0 94.9C433.8 94.0 439.9 91.0 441.6 90.0C443.3 89.0 444.8 86.5 445.8 86.6C446.8 86.7 448.3 89.8 449.9 90.8C451.5 91.8 456.9 93.7 459.5 94.9C462.1 96.1 469.3 99.7 471.8 100.4C474.3 101.1 478.3 101.1 480.0 100.8C481.7 100.5 484.6 98.8 486.0 98.0C487.4 97.2 490.8 95.4 491.6 94.0C492.4 92.6 492.7 88.2 493.0 86.3C493.3 84.4 492.5 79.9 494.0 78.3C495.5 76.7 503.7 73.0 505.7 73.0C507.7 73.0 510.0 76.5 511.0 78.3C512.0 80.1 513.0 86.3 513.7 88.0C514.4 89.7 514.8 91.9 517.0 92.5C519.2 93.1 528.7 92.3 532.0 92.7C535.3 93.1 541.8 95.0 544.4 96.2C547.0 97.4 552.1 100.6 554.0 102.3C555.9 104.0 559.3 108.7 560.0 110.5C560.7 112.3 560.1 115.6 559.5 117.4C558.9 119.2 556.2 123.6 554.7 125.6C553.2 127.6 549.1 132.3 547.0 133.8C544.9 135.3 539.4 136.3 537.5 138.0C535.6 139.7 533.9 144.9 531.5 147.8C529.1 150.7 518.4 158.8 517.3 162.0C516.2 165.2 520.7 171.3 522.6 174.5C524.5 177.7 531.5 185.8 533.3 188.8C535.1 191.8 538.3 197.6 537.7 199.5C537.1 201.4 530.2 203.5 528.0 204.8C525.8 206.1 521.2 208.8 519.0 210.0C516.8 211.2 512.6 213.5 510.0 214.6C507.4 215.7 500.0 217.4 497.7 219.0C495.4 220.6 492.2 226.6 490.5 228.0C488.8 229.4 485.2 230.3 483.4 230.7C481.6 231.1 477.3 231.6 475.4 231.6C473.5 231.6 469.6 230.7 467.4 230.7C465.2 230.7 458.2 230.7 456.7 231.6C455.2 232.5 454.6 236.0 455.0 237.8C455.4 239.6 458.7 244.7 460.3 246.7C461.9 248.7 468.5 252.9 468.3 254.7C468.1 256.5 461.8 260.3 458.5 261.8C455.2 263.3 444.1 265.8 440.7 267.0C437.3 268.2 433.0 270.0 430.0 271.6C427.0 273.2 419.4 278.4 415.8 280.5C412.2 282.6 403.1 287.4 399.7 289.5C396.3 291.6 389.5 295.9 387.3 298.4C385.1 300.9 382.1 307.5 381.0 310.0C379.9 312.5 379.0 315.8 378.4 319.0C377.8 322.2 376.5 333.0 375.7 336.7C374.9 340.4 374.0 347.8 372.0 350.0C370.0 352.2 362.4 354.0 358.8 355.4C355.2 356.8 343.6 359.6 341.9 361.6C340.2 363.6 344.4 369.7 344.5 372.3C344.6 374.9 342.6 381.1 342.7 383.0C342.8 384.9 344.4 386.9 345.4 388.4C346.4 389.9 350.0 394.2 350.8 395.5C351.6 396.8 351.9 398.6 352.0 399.0"/>
<path class="c" stroke="#FFE534" stroke-width="1.2" d="M508.5 114.6C508.5 116.0 507.6 119.4 506.9 120.6C506.2 121.8 503.7 124.3 502.5 125.0C501.3 125.7 497.9 126.6 496.5 126.6C495.1 126.6 491.7 125.7 490.5 125.0C489.3 124.3 486.8 121.8 486.1 120.6C485.4 119.4 484.5 116.0 484.5 114.6C484.5 113.2 485.4 109.8 486.1 108.6C486.8 107.4 489.3 104.9 490.5 104.2C491.7 103.5 495.1 102.6 496.5 102.6C497.9 102.6 501.3 103.5 502.5 104.2C503.7 104.9 506.2 107.4 506.9 108.6C507.6 109.8 508.5 113.2 508.5 114.6Z"/>
<path class="c" stroke="#FFE534" stroke-width="1.2" d="M699.0 238.0C698.8 238.4 698.0 239.6 697.0 241.0C696.0 242.4 693.7 248.5 690.4 249.7C687.1 250.9 673.0 249.5 669.3 250.7C665.6 251.9 662.5 257.7 659.7 259.3C656.9 260.9 648.9 262.3 646.3 264.0C643.7 265.7 641.2 272.4 637.7 273.7C634.2 275.0 621.1 273.1 617.5 274.7C613.9 276.3 612.8 285.4 608.0 287.0C603.2 288.6 581.5 287.4 577.3 288.0C573.1 288.6 573.9 288.9 573.4 292.0C572.9 295.1 573.4 311.4 573.4 314.0"/>
<path class="c" stroke="#FFE534" stroke-width="1.2" d="M352.5 114.0C352.7 114.6 353.3 118.0 354.0 119.0C354.7 120.0 357.5 122.1 358.0 122.5"/>
<path class="c" stroke="#FFE534" stroke-width="1.2" d="M492.3 94.0C492.3 94.7 492.1 98.6 492.0 100.0C491.9 101.4 491.6 105.3 491.5 106.0"/>
<path class="c" stroke="#FFE534" stroke-width="1.2" d="M44.0 206.0C44.3 206.3 46.2 207.8 46.5 208.5C46.8 209.2 47.1 211.3 46.8 212.0C46.5 212.7 44.3 213.8 44.0 214.0"/>
<path class="c" stroke="#ECF248" stroke-width="1.2" d="M537.5 44.0C537.4 44.4 537.6 45.6 536.9 47.0C536.2 48.4 532.6 53.8 531.5 56.0C530.4 58.2 528.2 62.6 528.0 65.0C527.8 67.4 528.2 73.5 529.7 75.6C531.2 77.7 537.6 81.2 540.4 82.7C543.2 84.2 549.9 86.3 552.9 88.0C555.9 89.7 562.6 94.4 565.0 96.8C567.4 99.2 571.8 105.0 573.0 107.8C574.2 110.6 575.5 116.7 575.2 120.0C574.9 123.3 572.0 132.2 570.4 135.2C568.8 138.2 564.1 142.2 562.2 144.8C560.3 147.4 556.6 153.4 554.7 156.7C552.8 160.0 547.5 169.5 546.6 172.7C545.7 175.9 547.8 180.4 547.5 183.4C547.2 186.4 544.1 194.7 544.0 197.7C543.9 200.7 547.5 206.5 546.6 208.4C545.7 210.3 539.1 212.3 536.9 213.7C534.7 215.1 529.9 217.7 528.0 220.0C526.1 222.3 522.0 229.7 520.8 232.5C519.6 235.3 518.3 239.2 518.0 243.0C517.7 246.8 518.7 260.2 518.0 264.5C517.3 268.8 512.5 275.6 512.0 278.8C511.5 282.0 514.6 288.5 513.7 291.0C512.8 293.5 506.8 297.7 504.8 300.0C502.8 302.3 498.9 307.7 496.8 310.0C494.7 312.3 489.5 316.4 487.0 319.0C484.5 321.6 478.5 328.5 476.3 331.4C474.1 334.3 470.0 340.8 468.3 343.0C466.6 345.2 462.8 347.8 462.0 350.0C461.2 352.2 463.1 358.9 462.0 361.6C460.9 364.3 455.2 369.5 453.0 372.3C450.8 375.1 445.9 382.3 444.0 384.8C442.1 387.3 438.7 391.6 437.0 392.8C435.3 394.0 431.6 394.2 430.0 394.6C428.4 395.0 425.4 395.5 424.0 396.0C422.6 396.5 418.7 398.6 418.0 399.0"/>
<path class="c" stroke="#ECF248" stroke-width="1.2" d="M699.0 215.0C697.9 215.1 691.5 214.9 690.0 215.5C688.5 216.1 687.5 219.0 686.6 220.0C685.7 221.0 684.1 222.5 682.7 223.8C681.3 225.1 677.1 230.1 675.0 230.5C672.9 230.9 667.3 228.4 665.0 227.5C662.7 226.6 658.0 224.2 656.0 223.0C654.0 221.8 650.3 217.8 648.0 217.8C645.7 217.8 640.5 221.1 636.7 222.9C632.9 224.7 619.0 229.8 616.6 232.5C614.2 235.2 616.0 242.4 616.6 245.0C617.2 247.6 622.7 252.6 621.4 254.5C620.1 256.4 611.0 259.3 606.0 261.0C601.0 262.7 583.2 267.0 580.0 269.0C576.8 271.0 581.4 275.6 579.0 277.5C576.6 279.4 563.8 284.0 560.0 285.0C556.2 286.0 549.5 285.3 547.5 286.0C545.5 286.7 542.6 289.3 543.0 291.0C543.4 292.7 549.2 297.8 551.0 300.0C552.8 302.2 556.0 306.6 558.0 309.0C560.0 311.4 566.5 318.3 567.7 319.6"/>
<path class="c" stroke="#ECF248" stroke-width="1.2" d="M481.0 86.4C481.0 87.6 480.0 90.5 479.3 91.5C478.5 92.4 476.0 94.2 474.8 94.6C473.6 95.0 470.4 95.0 469.2 94.6C468.0 94.2 465.5 92.4 464.7 91.5C464.0 90.5 463.0 87.6 463.0 86.4C463.0 85.2 464.0 82.3 464.7 81.3C465.5 80.4 468.0 78.6 469.2 78.2C470.4 77.8 473.6 77.8 474.8 78.2C476.0 78.6 478.5 80.4 479.3 81.3C480.0 82.3 481.0 85.2 481.0 86.4Z"/>
<path class="c" stroke="#ECF248" stroke-width="1.2" d="M453.5 326.4C453.5 327.4 452.5 329.7 451.8 330.4C451.1 331.1 448.8 332.1 447.8 332.1C446.8 332.1 444.5 331.1 443.8 330.4C443.1 329.7 442.1 327.4 442.1 326.4C442.1 325.4 443.1 323.1 443.8 322.4C444.5 321.7 446.8 320.7 447.8 320.7C448.8 320.7 451.1 321.7 451.8 322.4C452.5 323.1 453.5 325.4 453.5 326.4Z"/>
<path class="c" stroke="#ECF248" stroke-width="1.2" d="M503.7 115.0C503.7 116.0 502.9 118.4 502.3 119.2C501.7 120.1 499.7 121.5 498.7 121.8C497.8 122.2 495.2 122.2 494.3 121.8C493.3 121.5 491.3 120.1 490.7 119.2C490.1 118.4 489.3 116.0 489.3 115.0C489.3 114.0 490.1 111.6 490.7 110.8C491.3 109.9 493.3 108.5 494.3 108.2C495.2 107.8 497.8 107.8 498.7 108.2C499.7 108.5 501.7 109.9 502.3 110.8C502.9 111.6 503.7 114.0 503.7 115.0Z"/>
<path class="c" stroke="#C0F060" stroke-width="1.2" d="M545.0 44.0C545.1 44.4 545.1 45.3 545.8 47.0C546.5 48.7 549.7 55.4 551.0 57.8C552.3 60.2 555.3 64.9 556.4 66.7C557.5 68.5 558.9 71.6 560.0 73.0C561.1 74.4 564.6 76.6 565.8 78.4C567.0 80.2 567.8 85.5 569.6 88.0C571.4 90.5 579.2 97.0 581.0 99.5C582.8 102.0 584.6 106.5 585.0 109.0C585.4 111.5 584.0 118.0 584.0 120.5C584.0 123.0 585.1 127.7 585.0 130.0C584.9 132.3 584.0 137.1 583.0 139.6C582.0 142.1 577.0 148.7 576.3 151.0C575.6 153.3 578.1 156.7 577.3 158.8C576.5 160.9 571.2 166.8 569.6 168.4C568.0 170.0 565.2 171.0 563.8 172.0C562.4 173.0 559.0 175.7 558.0 177.0C557.0 178.3 555.9 181.4 555.6 183.0C555.3 184.6 555.3 188.5 555.8 190.0C556.3 191.5 558.1 194.9 560.0 195.5C561.9 196.1 569.0 195.7 571.5 195.0C574.0 194.3 578.7 190.9 581.0 189.5C583.3 188.1 588.2 184.6 590.7 183.7C593.2 182.8 599.5 181.9 602.0 182.0C604.5 182.1 610.5 183.6 611.8 184.7C613.1 185.8 613.2 189.4 612.7 191.4C612.2 193.4 609.7 199.7 608.0 201.0C606.3 202.3 600.2 201.3 598.4 202.0C596.6 202.7 593.5 204.5 592.6 206.7C591.7 208.9 590.3 217.6 590.7 220.0C591.1 222.4 594.4 226.1 596.0 226.7C597.6 227.3 601.4 225.5 604.0 224.8C606.6 224.1 614.7 222.5 617.5 221.0C620.3 219.5 624.2 214.0 627.0 212.5C629.8 211.0 637.0 209.1 640.5 208.6C644.0 208.1 652.8 208.3 656.0 208.6C659.2 208.9 664.6 210.7 667.4 211.5C670.2 212.3 676.2 215.2 679.0 215.3C681.8 215.4 688.0 212.8 690.4 212.5C692.8 212.2 698.0 212.5 699.0 212.5"/>
<path class="c" stroke="#80E858" stroke-width="1.4" d="M574.5 81.5C574.8 81.4 576.0 81.2 577.3 80.3C578.6 79.4 583.3 75.0 585.0 73.6C586.7 72.2 591.8 70.0 591.6 68.8C591.4 67.6 584.8 64.8 583.0 64.0C581.2 63.2 577.7 62.7 577.0 62.5"/>
<path class="c" stroke="#80E858" stroke-width="1.4" d="M630.0 44.0C630.1 44.3 630.0 45.1 631.0 46.7C632.0 48.3 637.9 54.9 638.6 57.3C639.3 59.7 639.2 64.1 636.7 66.9C634.2 69.7 620.9 78.7 617.5 80.3C614.1 81.9 608.5 78.9 608.0 80.3C607.5 81.7 613.6 88.6 613.7 91.8C613.8 95.0 609.9 103.6 609.0 107.0C608.1 110.4 606.2 117.7 606.0 120.5C605.8 123.3 606.1 127.9 607.0 130.0C607.9 132.1 612.7 136.6 613.7 138.0C614.7 139.4 615.3 140.3 615.6 141.5C615.9 142.7 616.2 146.0 616.6 148.0C617.0 150.0 617.8 157.3 619.0 158.0C620.2 158.7 625.3 154.1 627.0 154.0C628.7 153.9 631.0 156.4 632.9 156.9C634.8 157.4 640.7 157.9 642.5 157.8C644.3 157.7 647.0 155.2 647.8 155.9C648.6 156.6 649.4 161.7 649.0 163.6C648.6 165.5 645.6 169.8 644.4 172.0C643.2 174.2 639.5 179.9 638.6 181.8C637.7 183.7 636.0 186.7 636.7 187.5C637.4 188.3 641.6 188.5 644.4 188.5C647.2 188.5 656.0 187.5 659.7 187.5C663.4 187.5 671.3 188.0 675.0 188.5C678.7 189.0 687.5 190.9 690.4 191.4C693.3 191.9 698.0 192.4 699.0 192.5"/>
<path class="c" stroke="#50E050" stroke-width="1.4" d="M635.0 44.0C635.1 44.3 634.2 44.9 635.8 46.7C637.4 48.5 644.7 55.5 648.0 59.0C651.3 62.5 660.6 72.5 663.6 75.5C666.6 78.5 671.6 82.0 673.0 84.0C674.4 86.0 675.1 89.5 675.0 91.8C674.9 94.1 672.9 100.6 672.0 103.3C671.1 106.0 669.2 113.5 667.8 114.2C666.4 114.9 662.0 110.5 660.3 109.4C658.6 108.3 655.4 106.0 653.4 105.3C651.4 104.6 646.3 103.5 643.8 103.5C641.3 103.5 635.2 104.5 632.9 105.3C630.6 106.1 626.1 108.6 624.7 110.0C623.3 111.4 621.6 115.2 621.2 117.0C620.8 118.8 620.7 123.3 621.2 125.0C621.7 126.7 624.2 130.0 625.3 131.3C626.4 132.6 628.7 135.2 630.0 136.0C631.3 136.8 634.5 137.5 636.5 137.6C638.5 137.7 644.7 137.3 646.6 136.8C648.5 136.3 651.2 134.1 652.7 133.4C654.2 132.7 657.8 130.5 659.0 131.3C660.2 132.1 662.0 138.0 663.0 140.2C664.0 142.4 666.0 148.2 667.0 149.8C668.0 151.4 670.0 153.2 671.2 153.2C672.4 153.2 674.7 150.5 676.7 149.8C678.7 149.1 685.0 148.0 687.7 147.7C690.4 147.4 697.6 147.7 699.0 147.7"/>
<path class="c" stroke="#28C048" stroke-width="1.4" d="M648.7 124.0C648.7 125.5 647.1 129.0 646.0 130.1C644.9 131.1 641.1 132.6 639.5 132.6C637.9 132.6 634.1 131.1 633.0 130.1C631.9 129.0 630.3 125.5 630.3 124.0C630.3 122.5 631.9 119.0 633.0 117.9C634.1 116.9 637.9 115.4 639.5 115.4C641.1 115.4 644.9 116.9 646.0 117.9C647.1 119.0 648.7 122.5 648.7 124.0Z"/>
<path class="c" stroke="#28C048" stroke-width="1.4" d="M682.1 125.6C682.2 126.0 681.5 126.9 680.9 127.3C680.3 127.7 678.3 128.4 677.3 128.7C676.3 128.9 673.7 129.2 672.7 129.2C671.7 129.2 669.5 129.0 668.9 128.7C668.2 128.5 667.3 127.8 667.3 127.4C667.2 127.0 667.9 126.1 668.5 125.7C669.1 125.3 671.1 124.6 672.1 124.3C673.1 124.1 675.7 123.8 676.7 123.8C677.7 123.8 679.9 124.0 680.5 124.3C681.2 124.5 682.1 125.2 682.1 125.6Z"/>
<path class="c" stroke="#FFA808" stroke-width="1.6" d="M389.6 112.2C390.0 110.8 391.2 107.9 392.0 107.0C392.8 106.1 395.5 105.0 396.6 105.0C397.7 105.0 400.1 106.1 401.0 107.0C401.9 107.9 402.9 110.8 403.7 112.2C404.5 113.6 406.3 117.1 407.6 118.5C408.9 119.9 412.9 123.6 414.7 124.0C416.5 124.4 420.9 122.6 422.5 121.6C424.1 120.6 426.4 116.6 428.0 115.4C429.6 114.2 433.5 112.2 435.8 111.5C438.1 110.8 444.4 109.7 446.8 109.9C449.2 110.1 454.4 111.8 456.2 113.0C458.0 114.2 461.1 118.1 461.7 120.0C462.3 121.9 461.5 126.7 460.9 128.7C460.3 130.7 458.7 135.5 457.0 136.5C455.3 137.5 448.8 136.6 446.8 137.3C444.8 138.0 441.7 141.1 440.5 142.0C439.3 142.9 437.7 145.6 436.6 145.2C435.5 144.8 432.6 140.4 431.1 138.9C429.6 137.4 425.8 133.5 424.1 132.6C422.4 131.7 418.2 130.8 417.0 131.0C415.8 131.2 415.0 132.9 413.9 134.2C412.8 135.5 408.8 140.7 407.6 142.0C406.4 143.3 405.2 144.2 403.7 145.2C402.2 146.2 397.2 150.0 395.1 150.0C393.0 150.0 388.0 146.3 386.5 145.2C385.0 144.1 382.9 141.7 382.5 140.5C382.1 139.3 382.8 136.3 383.3 135.0C383.8 133.7 386.1 131.1 387.0 130.0C387.9 128.9 391.0 127.0 391.2 125.6C391.4 124.2 389.0 120.1 388.8 118.5C388.6 116.9 389.2 113.6 389.6 112.2Z"/>
<path class="c" stroke="#FFA808" stroke-width="1.6" d="M409.5 162.0C409.5 163.8 412.8 169.2 414.0 171.0C415.2 172.8 417.4 175.8 419.3 177.0C421.2 178.2 428.0 179.8 430.0 180.8C432.0 181.8 435.0 185.8 436.0 185.0C437.0 184.2 437.7 177.3 438.0 174.5C438.3 171.7 438.7 164.3 438.5 162.0C438.3 159.7 437.3 156.1 436.0 155.0C434.7 153.9 429.8 153.4 428.0 153.0C426.2 152.6 422.7 151.6 421.0 152.0C419.3 152.4 415.4 154.8 414.0 156.0C412.6 157.2 409.5 160.2 409.5 162.0Z"/>
<path class="c" stroke="#FFA808" stroke-width="1.6" d="M454.6 164.7C455.4 164.8 458.8 168.0 459.4 170.0C460.0 172.0 458.7 179.2 459.4 181.6C460.1 184.0 463.1 188.4 465.6 189.7C468.1 191.0 477.1 191.3 479.9 192.3C482.7 193.3 487.6 196.2 488.8 197.7C490.0 199.2 490.1 203.4 489.7 204.8C489.3 206.2 487.0 208.7 485.2 209.0C483.4 209.3 476.9 208.1 474.5 207.5C472.1 206.9 467.7 203.5 465.6 204.0C463.5 204.5 458.6 210.2 456.7 212.0C454.8 213.8 450.6 217.7 449.6 219.0C448.6 220.3 448.7 222.2 448.0 223.0C447.3 223.8 445.8 225.5 444.0 226.0C442.2 226.5 434.7 227.1 433.0 227.0C431.3 226.9 431.2 225.8 430.0 225.0C428.8 224.2 425.5 222.0 423.0 220.0C420.5 218.0 410.1 210.9 409.5 208.4C408.9 205.9 416.0 201.0 418.0 199.0C420.0 197.0 425.0 191.9 426.4 191.4C427.8 190.9 428.7 193.7 430.0 195.0C431.3 196.3 434.9 202.1 437.0 202.0C439.1 201.9 446.0 196.4 447.8 194.0C449.6 191.6 451.4 184.6 452.0 181.6C452.6 178.6 452.7 171.0 453.0 169.0C453.3 167.0 453.8 164.6 454.6 164.7Z"/>
<path class="c" stroke="#FFA808" stroke-width="1.6" d="M347.7 168.0C349.3 168.9 352.6 171.5 353.2 172.8C353.8 174.1 352.9 177.7 352.5 179.0C352.1 180.3 350.8 182.8 349.8 183.8C348.8 184.8 346.1 187.3 344.2 187.6C342.3 187.9 336.1 186.6 334.0 185.9C331.9 185.2 328.2 182.9 327.0 181.7C325.8 180.5 323.8 177.6 323.7 176.2C323.6 174.8 324.9 171.2 326.0 170.0C327.1 168.8 331.3 166.6 333.0 166.0C334.7 165.4 338.2 164.8 340.0 165.0C341.8 165.2 346.1 167.1 347.7 168.0Z"/>
<path class="c" stroke="#FFA808" stroke-width="1.6" d="M545.0 116.0C545.0 117.0 544.1 119.4 543.4 120.3C542.7 121.2 540.2 122.9 539.0 123.4C537.8 124.0 534.4 124.6 533.0 124.6C531.6 124.6 528.2 124.0 527.0 123.4C525.8 122.9 523.3 121.2 522.6 120.3C521.9 119.4 521.0 117.0 521.0 116.0C521.0 115.0 521.9 112.6 522.6 111.7C523.3 110.8 525.8 109.1 527.0 108.6C528.2 108.0 531.6 107.4 533.0 107.4C534.4 107.4 537.8 108.0 539.0 108.6C540.2 109.1 542.7 110.8 543.4 111.7C544.1 112.6 545.0 115.0 545.0 116.0Z"/>
<path class="c" stroke="#FFA808" stroke-width="1.6" d="M213.6 204.8C213.5 205.2 212.9 207.3 213.0 208.0C213.1 208.7 213.9 210.3 214.5 210.5C215.1 210.7 217.3 210.0 218.0 209.5C218.7 209.0 219.8 206.4 220.0 206.0"/>
<path class="c" stroke="#FFC818" stroke-width="1.3" d="M240.0 113.5C240.2 113.9 241.3 116.0 242.0 116.5C242.7 117.0 244.7 117.5 245.5 117.5C246.3 117.5 248.3 117.0 249.0 116.5C249.7 116.0 250.8 113.9 251.0 113.5"/>
<path class="c" stroke="#FFA808" stroke-width="1.6" d="M44.0 344.0C44.1 344.0 44.5 344.7 45.0 343.8C45.5 342.9 46.9 338.3 48.0 336.7C49.1 335.1 52.1 331.1 54.0 330.5C55.9 329.9 61.8 331.2 64.0 331.4C66.2 331.6 70.4 332.4 72.4 332.3C74.4 332.2 78.3 331.6 81.0 330.5C83.7 329.4 92.2 325.2 95.2 323.4C98.2 321.6 104.3 317.0 105.9 315.3C107.5 313.6 108.1 311.2 108.6 309.0C109.1 306.8 109.9 299.6 110.3 296.6C110.7 293.6 111.2 286.8 112.0 284.0C112.8 281.2 116.3 275.7 116.6 273.4C116.9 271.1 115.7 266.5 114.8 264.5C113.9 262.5 110.0 258.1 109.5 256.5C109.0 254.9 109.9 252.1 111.0 251.0C112.1 249.9 116.4 247.9 118.4 247.6C120.4 247.3 125.2 248.0 127.3 248.5C129.4 249.0 133.9 251.7 136.0 252.0C138.1 252.3 142.8 250.6 145.0 251.0C147.2 251.4 151.8 255.0 154.0 255.6C156.2 256.2 161.3 256.0 163.2 256.3C165.1 256.6 168.3 257.0 170.0 258.0C171.7 259.0 175.3 263.0 177.0 264.5C178.7 266.0 182.1 269.7 184.0 270.8C185.9 271.9 190.4 273.0 193.0 273.4C195.6 273.8 203.0 274.0 205.6 274.3C208.2 274.6 212.6 275.0 214.5 276.0C216.4 277.0 220.1 281.0 221.6 282.3C223.1 283.6 225.1 286.0 227.0 286.8C228.9 287.6 235.3 288.3 237.7 288.6C240.1 288.9 245.1 288.8 246.6 289.5C248.1 290.2 249.8 293.3 250.0 294.8C250.2 296.3 249.5 300.3 248.4 302.0C247.3 303.7 242.6 307.5 241.0 309.0C239.4 310.5 234.5 313.2 235.0 314.5C235.5 315.8 242.3 318.4 244.8 319.8C247.3 321.2 253.6 324.0 255.5 326.0C257.4 328.0 259.1 333.7 260.8 336.7C262.5 339.7 268.0 348.0 269.7 351.0C271.4 354.0 274.6 359.0 275.0 361.6C275.4 364.2 274.1 370.3 273.3 372.3C272.5 374.3 269.1 377.4 268.0 378.6C266.9 379.8 265.5 382.4 263.8 382.7C262.1 383.0 255.0 380.5 253.7 381.0C252.4 381.5 252.4 385.5 252.8 386.6C253.2 387.7 255.3 389.9 257.3 390.0C259.3 390.1 266.5 387.8 269.7 387.5C272.9 387.2 281.6 387.1 284.0 387.5C286.4 387.9 288.2 390.0 289.3 391.0C290.4 392.0 292.4 394.5 293.0 395.5C293.6 396.5 293.9 398.6 294.0 399.0"/>
<path class="c" stroke="#F08000" stroke-width="1.6" d="M85.0 399.0C84.7 398.6 83.2 396.7 82.7 395.5C82.2 394.3 81.9 390.7 81.0 389.0C80.1 387.3 76.7 383.0 75.6 381.0C74.5 379.0 72.0 374.3 72.0 372.3C72.0 370.3 73.9 366.0 75.6 364.3C77.3 362.6 83.5 359.5 86.3 358.0C89.1 356.5 95.4 353.1 98.8 351.9C102.2 350.7 111.2 349.3 114.8 348.3C118.4 347.3 126.3 345.2 129.0 343.8C131.7 342.4 135.9 339.5 137.0 336.7C138.1 333.9 138.0 323.9 138.0 320.7C138.0 317.5 136.8 312.5 137.0 310.0C137.2 307.5 138.6 302.0 139.7 300.0C140.8 298.0 145.4 294.7 146.0 293.0C146.6 291.3 145.6 287.4 145.0 285.9C144.4 284.4 140.2 282.2 140.6 280.5C141.0 278.8 146.4 273.2 148.6 271.6C150.8 270.0 156.7 267.6 159.3 267.0C161.9 266.4 168.2 266.3 170.0 266.3C171.8 266.3 173.7 266.2 174.5 266.7C175.3 267.2 175.9 269.6 177.0 270.8C178.1 272.0 182.5 275.4 184.0 277.0C185.5 278.6 188.3 282.3 189.6 284.0C190.9 285.7 193.5 289.3 195.0 291.0C196.5 292.7 200.1 297.0 202.0 298.4C203.9 299.8 210.2 301.8 211.0 302.8C211.8 303.8 209.4 306.1 209.0 307.0C208.6 307.9 208.4 309.1 207.4 310.0C206.4 310.9 200.9 313.2 201.0 314.5C201.1 315.8 206.6 319.2 208.3 320.7C210.0 322.2 215.1 325.5 215.4 327.0C215.7 328.5 212.5 331.6 211.0 333.0C209.5 334.4 204.2 336.8 203.0 338.5C201.8 340.2 201.6 345.4 201.0 347.4C200.4 349.4 198.8 354.7 197.6 355.4C196.4 356.1 193.1 354.8 191.4 353.6C189.7 352.4 185.1 346.0 183.4 345.6C181.7 345.2 178.6 348.3 177.0 350.0C175.4 351.7 171.1 358.0 170.0 360.0C168.9 362.0 168.0 365.4 168.0 367.0C168.0 368.6 168.9 372.6 170.0 373.0C171.1 373.4 175.3 371.6 177.0 370.6C178.7 369.6 182.1 365.8 184.0 365.0C185.9 364.2 191.1 363.5 193.0 364.0C194.9 364.5 198.6 367.9 200.0 368.8C201.4 369.7 203.4 371.3 204.7 371.4C206.0 371.5 209.0 370.2 211.0 369.7C213.0 369.2 219.7 366.9 221.6 367.0C223.5 367.1 225.7 369.3 227.0 370.6C228.3 371.9 230.2 376.5 232.3 377.7C234.4 378.9 243.1 379.9 244.8 381.0C246.5 382.1 247.5 385.5 246.6 386.6C245.7 387.7 239.5 388.9 237.7 390.0C235.9 391.1 232.4 394.4 231.4 395.5C230.4 396.6 229.3 398.6 229.0 399.0"/>
<path class="c" stroke="#F08000" stroke-width="1.6" d="M194.0 322.5C193.4 322.7 192.8 328.2 193.0 329.6C193.2 331.0 195.2 334.2 195.8 334.0C196.4 333.8 197.8 329.2 197.6 327.8C197.4 326.4 194.6 322.3 194.0 322.5Z"/>
<path class="c" stroke="#F08000" stroke-width="1.6" d="M455.8 122.2C455.8 123.4 454.9 126.1 454.2 127.0C453.6 128.0 451.2 129.6 450.1 130.0C449.0 130.4 446.2 130.4 445.1 130.0C444.0 129.6 441.6 128.0 441.0 127.0C440.3 126.1 439.4 123.4 439.4 122.2C439.4 121.0 440.3 118.3 441.0 117.4C441.6 116.4 444.0 114.8 445.1 114.4C446.2 114.0 449.0 114.0 450.1 114.4C451.2 114.8 453.6 116.4 454.2 117.4C454.9 118.3 455.8 121.0 455.8 122.2Z"/>
<path class="c" stroke="#F08000" stroke-width="1.6" d="M541.7 115.6C541.7 116.4 540.8 118.2 540.2 118.8C539.5 119.5 537.2 120.6 536.2 120.8C535.1 121.1 532.3 121.1 531.2 120.8C530.2 120.6 527.9 119.5 527.2 118.8C526.6 118.2 525.7 116.4 525.7 115.6C525.7 114.8 526.6 113.0 527.2 112.4C527.9 111.7 530.2 110.6 531.2 110.4C532.3 110.1 535.1 110.1 536.2 110.4C537.2 110.6 539.5 111.7 540.2 112.4C540.8 113.0 541.7 114.8 541.7 115.6Z"/>
<path class="c" stroke="#F08000" stroke-width="1.6" d="M391.5 119.0C391.7 119.3 392.9 121.4 393.5 121.8C394.1 122.2 395.9 122.6 396.6 122.6C397.3 122.6 399.1 122.2 399.7 121.8C400.3 121.4 401.5 119.3 401.7 119.0"/>
<path class="c" stroke="#F08000" stroke-width="1.6" d="M333.3 179.0C333.6 179.2 335.2 181.1 336.0 181.0C336.8 180.9 339.5 179.0 340.2 178.3C340.9 177.6 342.0 175.3 342.2 174.9"/>
<path class="c" stroke="#E85800" stroke-width="1.6" d="M164.0 298.0C164.7 297.8 168.2 296.5 170.0 296.5C171.8 296.5 177.1 297.7 179.0 298.4C180.9 299.1 185.8 300.8 186.0 302.0C186.2 303.2 182.4 306.7 180.7 308.0C179.0 309.3 174.0 312.1 172.0 312.5C170.0 312.9 165.0 311.2 164.0 311.0"/>
<path class="c" stroke="#F08000" stroke-width="1.0" d="M405.2 139.2C405.2 139.8 404.5 141.3 403.9 141.8C403.3 142.4 401.4 143.5 400.4 143.8C399.4 144.1 396.8 144.5 395.6 144.5C394.4 144.5 391.8 144.1 390.8 143.8C389.8 143.5 387.9 142.4 387.3 141.8C386.7 141.3 386.0 139.8 386.0 139.2C386.0 138.6 386.7 137.1 387.3 136.5C387.9 136.0 389.8 134.9 390.8 134.6C391.8 134.3 394.4 133.9 395.6 133.9C396.8 133.9 399.4 134.3 400.4 134.6C401.4 134.9 403.3 136.0 403.9 136.5C404.5 137.1 405.2 138.6 405.2 139.2Z"/>
<path class="c" stroke="#E85800" stroke-width="1.0" d="M403.9 139.2C403.9 139.7 403.3 141.0 402.8 141.4C402.3 141.9 400.6 142.8 399.8 143.1C398.9 143.4 396.6 143.7 395.6 143.7C394.6 143.7 392.3 143.4 391.5 143.1C390.6 142.8 388.9 141.9 388.4 141.4C387.9 141.0 387.3 139.7 387.3 139.2C387.3 138.7 387.9 137.4 388.4 136.9C388.9 136.5 390.6 135.6 391.5 135.3C392.3 135.0 394.6 134.7 395.6 134.7C396.6 134.7 398.9 135.0 399.8 135.3C400.6 135.6 402.3 136.5 402.8 136.9C403.3 137.4 403.9 138.7 403.9 139.2Z"/>
<path class="c" stroke="#E85800" stroke-width="1.0" d="M402.6 139.2C402.6 139.7 402.1 140.7 401.7 141.1C401.2 141.5 399.8 142.3 399.1 142.5C398.4 142.7 396.4 143.0 395.6 143.0C394.8 143.0 392.8 142.7 392.1 142.5C391.4 142.3 390.0 141.5 389.5 141.1C389.1 140.7 388.6 139.7 388.6 139.2C388.6 138.7 389.1 137.7 389.5 137.3C390.0 136.9 391.4 136.1 392.1 135.9C392.8 135.7 394.8 135.4 395.6 135.4C396.4 135.4 398.4 135.7 399.1 135.9C399.8 136.1 401.2 136.9 401.7 137.3C402.1 137.7 402.6 138.7 402.6 139.2Z"/>
<path class="c" stroke="#D82800" stroke-width="1.0" d="M401.4 139.2C401.4 139.6 401.0 140.4 400.6 140.8C400.3 141.1 399.1 141.7 398.5 141.9C397.9 142.1 396.3 142.3 395.6 142.3C394.9 142.3 393.3 142.1 392.7 141.9C392.1 141.7 390.9 141.1 390.6 140.8C390.2 140.4 389.8 139.6 389.8 139.2C389.8 138.8 390.2 138.0 390.6 137.6C390.9 137.3 392.1 136.7 392.7 136.5C393.3 136.3 394.9 136.1 395.6 136.1C396.3 136.1 397.9 136.3 398.5 136.5C399.1 136.7 400.3 137.3 400.6 137.6C401.0 138.0 401.4 138.8 401.4 139.2Z"/>
<path class="c" stroke="#D82800" stroke-width="1.0" d="M400.2 139.2C400.2 139.5 399.9 140.2 399.6 140.4C399.3 140.6 398.4 141.1 397.9 141.3C397.4 141.4 396.2 141.6 395.6 141.6C395.0 141.6 393.8 141.4 393.3 141.3C392.8 141.1 391.9 140.6 391.6 140.4C391.3 140.2 391.0 139.5 391.0 139.2C391.0 138.9 391.3 138.2 391.6 138.0C391.9 137.8 392.8 137.3 393.3 137.1C393.8 137.0 395.0 136.8 395.6 136.8C396.2 136.8 397.4 137.0 397.9 137.1C398.4 137.3 399.3 137.8 399.6 138.0C399.9 138.2 400.2 138.9 400.2 139.2Z"/>
<path class="c" stroke="#FFE534" stroke-width="1.3" d="M100.4 92.5L104.0 87.9L107.6 92.5L104.0 97.1Z"/>
<path class="c" stroke="#FFE534" stroke-width="1.3" d="M241.2 55.7L245.2 51.5L249.2 55.7L245.2 59.9Z"/>
<path class="c" stroke="#FFE534" stroke-width="1.3" d="M471.8 56.5L476.0 51.5L480.2 56.5L476.0 61.5Z"/>
<path class="c" stroke="#FFE534" stroke-width="1.3" d="M292.0 114.8L295.6 111.2L299.2 114.8L295.6 118.4Z"/>
<path class="c" stroke="#FFE534" stroke-width="1.3" d="M50.5 221.0L54.0 217.5L57.5 221.0L54.0 224.5Z"/>
<path class="c" stroke="#FFC818" stroke-width="1.3" d="M89.5 243.2L96.0 243.2L93.5 248.5Z"/>
<path class="c" stroke="#E85800" stroke-width="1.3" d="M454.5 197.7L456.7 195.1L458.9 197.7L456.7 200.3Z"/>
<path class="c" stroke="#FFE534" stroke-width="1.3" d="M639.5 232.8L646.5 226.8L653.5 232.8L646.5 238.8Z"/>
<path class="c" stroke="#ECF248" stroke-width="1.3" d="M145.0 151.0L147.6 148.8L150.2 151.0L147.6 153.2Z"/>
<rect x="49.4" y="70.2" width="7.2" height="7.6" fill="#fff"/>
<rect x="145.3" y="69.2" width="15.4" height="7.6" fill="#fff"/>
<rect x="64.7" y="144.0" width="15.4" height="7.6" fill="#fff"/>
<rect x="235.8" y="121.7" width="15.4" height="7.6" fill="#fff"/>
<rect x="336.8" y="89.6" width="15.4" height="7.6" fill="#fff"/>
<rect x="498.0" y="69.2" width="15.4" height="7.6" fill="#fff"/>
<rect x="144.8" y="195.7" width="15.4" height="7.6" fill="#fff"/>
<rect x="266.3" y="193.9" width="15.4" height="7.6" fill="#fff"/>
<rect x="90.7" y="203.7" width="7.2" height="7.6" fill="#fff"/>
<rect x="221.6" y="218.5" width="7.2" height="7.6" fill="#fff"/>
<rect x="241.6" y="265.2" width="7.2" height="7.6" fill="#fff"/>
<rect x="70.2" y="312.4" width="7.2" height="7.6" fill="#fff"/>
<rect x="352.2" y="146.8" width="7.2" height="7.6" fill="#fff"/>
<rect x="352.1" y="242.6" width="7.2" height="7.6" fill="#fff"/>
<rect x="473.1" y="221.5" width="7.2" height="7.6" fill="#fff"/>
<rect x="432.7" y="99.5" width="7.2" height="7.6" fill="#fff"/>
<rect x="523.7" y="128.7" width="7.2" height="7.6" fill="#fff"/>
<rect x="417.2" y="93.8" width="15.4" height="7.6" fill="#fff"/>
<rect x="467.7" y="227.8" width="15.4" height="7.6" fill="#fff"/>
<rect x="407.0" y="120.2" width="15.4" height="7.6" fill="#fff"/>
<rect x="387.4" y="146.4" width="15.4" height="7.6" fill="#fff"/>
<rect x="336.5" y="183.8" width="15.4" height="7.6" fill="#fff"/>
<rect x="428.1" y="151.0" width="15.4" height="7.6" fill="#fff"/>
<rect x="447.3" y="161.4" width="15.4" height="7.6" fill="#fff"/>
<rect x="155.5" y="252.5" width="15.4" height="7.6" fill="#fff"/>
<rect x="425.3" y="223.2" width="15.4" height="7.6" fill="#fff"/>
<rect x="64.7" y="328.5" width="15.4" height="7.6" fill="#fff"/>
<rect x="256.1" y="378.9" width="15.4" height="7.6" fill="#fff"/>
<rect x="170.9" y="262.9" width="7.2" height="7.6" fill="#fff"/>
<rect x="201.1" y="367.6" width="7.2" height="7.6" fill="#fff"/>
<rect x="573.7" y="76.5" width="7.2" height="7.6" fill="#fff"/>
<rect x="644.2" y="152.1" width="7.2" height="7.6" fill="#fff"/>
<rect x="628.8" y="133.8" width="15.4" height="7.6" fill="#fff"/>
<rect x="588.3" y="222.9" width="15.4" height="7.6" fill="#fff"/>
<text class="cl" x="53.0" y="77.7" fill="#FFC818" stroke="#FFC818">5</text>
<text class="cl" x="153.0" y="76.7" fill="#FFE534" stroke="#FFE534">4.5</text>
<text class="cl" x="72.4" y="151.5" fill="#FFE534" stroke="#FFE534">4.5</text>
<text class="cl" x="243.5" y="129.2" fill="#FFE534" stroke="#FFE534">4.5</text>
<text class="cl" x="344.5" y="97.1" fill="#FFE534" stroke="#FFE534">4.5</text>
<text class="cl" x="505.7" y="76.7" fill="#FFE534" stroke="#FFE534">4.5</text>
<text class="cl" x="152.5" y="203.2" fill="#FFE534" stroke="#FFE534">4.5</text>
<text class="cl" x="274.0" y="201.4" fill="#FFE534" stroke="#FFE534">4.5</text>
<text class="cl" x="94.3" y="211.2" fill="#FFC818" stroke="#FFC818">5</text>
<text class="cl" x="225.2" y="226.0" fill="#FFC818" stroke="#FFC818">5</text>
<text class="cl" x="245.2" y="272.7" fill="#FFC818" stroke="#FFC818">5</text>
<text class="cl" x="73.8" y="319.9" fill="#FFC818" stroke="#FFC818">5</text>
<text class="cl" x="355.8" y="154.3" fill="#FFC818" stroke="#FFC818">5</text>
<text class="cl" x="355.7" y="250.1" fill="#FFC818" stroke="#FFC818">5</text>
<text class="cl" x="476.7" y="229.0" fill="#FFC818" stroke="#FFC818">5</text>
<text class="cl" x="436.3" y="107.0" fill="#FFC818" stroke="#FFC818">5</text>
<text class="cl" x="527.3" y="136.2" fill="#FFC818" stroke="#FFC818">5</text>
<text class="cl" x="424.9" y="101.3" fill="#FFE534" stroke="#FFE534">4.5</text>
<text class="cl" x="475.4" y="235.3" fill="#FFE534" stroke="#FFE534">4.5</text>
<text class="cl" x="414.7" y="127.7" fill="#FFA808" stroke="#FFA808">5.5</text>
<text class="cl" x="395.1" y="153.9" fill="#FFA808" stroke="#FFA808">5.5</text>
<text class="cl" x="344.2" y="191.3" fill="#FFA808" stroke="#FFA808">5.5</text>
<text class="cl" x="435.8" y="158.5" fill="#FFA808" stroke="#FFA808">5.5</text>
<text class="cl" x="455.0" y="168.9" fill="#FFA808" stroke="#FFA808">5.5</text>
<text class="cl" x="163.2" y="260.0" fill="#FFA808" stroke="#FFA808">5.5</text>
<text class="cl" x="433.0" y="230.7" fill="#FFA808" stroke="#FFA808">5.5</text>
<text class="cl" x="72.4" y="336.0" fill="#FFA808" stroke="#FFA808">5.5</text>
<text class="cl" x="263.8" y="386.4" fill="#FFA808" stroke="#FFA808">5.5</text>
<text class="cl" x="174.5" y="270.4" fill="#F08000" stroke="#F08000">6</text>
<text class="cl" x="204.7" y="375.1" fill="#F08000" stroke="#F08000">6</text>
<text class="cl" x="577.3" y="84.0" fill="#80E858" stroke="#80E858">3</text>
<text class="cl" x="647.8" y="159.6" fill="#80E858" stroke="#80E858">3</text>
<text class="cl" x="636.5" y="141.3" fill="#50E050" stroke="#50E050">2.5</text>
<text class="cl" x="596.0" y="230.4" fill="#C0F060" stroke="#C0F060">3.5</text>
<path class="grid" d="M94.5 45V397"/>
<path class="grid" d="M144.5 45V397"/>
<path class="grid" d="M194.5 45V397"/>
<path class="grid" d="M245.5 45V397"/>
<path class="grid" d="M295.5 45V397"/>
<path class="grid" d="M345.5 45V397"/>
<path class="grid" d="M396.5 45V397"/>
<path class="grid" d="M446.5 45V397"/>
<path class="grid" d="M496.5 45V397"/>
<path class="grid" d="M547.5 45V397"/>
<path class="grid" d="M597.5 45V397"/>
<path class="grid" d="M647.5 45V397"/>
<path class="grid" d="M44 74.5H698"/>
<path class="grid" d="M44 103.5H698"/>
<path class="grid" d="M44 132.5H698"/>
<path class="grid" d="M44 162.5H698"/>
<path class="grid" d="M44 191.5H698"/>
<path class="grid" d="M44 220.5H698"/>
<path class="grid" d="M44 250.5H698"/>
<path class="grid" d="M44 279.5H698"/>
<path class="grid" d="M44 308.5H698"/>
<path class="grid" d="M44 338.5H698"/>
<path class="grid" d="M44 367.5H698"/>
<circle cx="109.5" cy="113.5" r="4.1" fill="#FFA808" stroke="#000" stroke-opacity="0.45" stroke-width="0.7"/>
<text class="st" x="109.5" y="109.5" textLength="15.3" lengthAdjust="spacingAndGlyphs">5.3</text>
<circle cx="245.2" cy="110.6" r="4.1" fill="#980000" stroke="#000" stroke-opacity="0.45" stroke-width="0.7"/>
<text class="st" x="245.2" y="106.6" textLength="15.3" lengthAdjust="spacingAndGlyphs">8.1</text>
<circle cx="237.4" cy="103.5" r="4.1" fill="#80E858" stroke="#000" stroke-opacity="0.45" stroke-width="0.7"/>
<text class="st" x="237.4" y="99.5" textLength="15.3" lengthAdjust="spacingAndGlyphs">3.0</text>
<circle cx="282.7" cy="97.9" r="4.1" fill="#FFA808" stroke="#000" stroke-opacity="0.45" stroke-width="0.7"/>
<text class="st" x="282.7" y="93.9" textLength="15.3" lengthAdjust="spacingAndGlyphs">5.1</text>
<circle cx="276.0" cy="122.0" r="4.1" fill="#C0F060" stroke="#000" stroke-opacity="0.45" stroke-width="0.7"/>
<text class="st" x="276.0" y="118.0" textLength="15.3" lengthAdjust="spacingAndGlyphs">3.2</text>
<circle cx="223.4" cy="129.0" r="4.1" fill="#80E858" stroke="#000" stroke-opacity="0.45" stroke-width="0.7"/>
<text class="st" x="223.4" y="125.0" textLength="15.3" lengthAdjust="spacingAndGlyphs">2.9</text>
<circle cx="343.3" cy="81.3" r="4.1" fill="#80E858" stroke="#000" stroke-opacity="0.45" stroke-width="0.7"/>
<text class="st" x="343.3" y="77.3" textLength="15.3" lengthAdjust="spacingAndGlyphs">3.0</text>
<circle cx="421.3" cy="94.2" r="4.1" fill="#50E050" stroke="#000" stroke-opacity="0.45" stroke-width="0.7"/>
<text class="st" x="421.3" y="90.2" textLength="15.3" lengthAdjust="spacingAndGlyphs">2.2</text>
<circle cx="362.3" cy="119.8" r="4.1" fill="#80E858" stroke="#000" stroke-opacity="0.45" stroke-width="0.7"/>
<text class="st" x="362.3" y="115.8" textLength="15.3" lengthAdjust="spacingAndGlyphs">2.6</text>
<circle cx="396.6" cy="115.4" r="4.1" fill="#D82800" stroke="#000" stroke-opacity="0.45" stroke-width="0.7"/>
<text class="st" x="396.6" y="111.4" textLength="15.3" lengthAdjust="spacingAndGlyphs">6.8</text>
<circle cx="471.4" cy="87.1" r="4.1" fill="#50E050" stroke="#000" stroke-opacity="0.45" stroke-width="0.7"/>
<text class="st" x="471.4" y="83.1" textLength="15.3" lengthAdjust="spacingAndGlyphs">2.1</text>
<circle cx="496.6" cy="115.2" r="4.1" fill="#80E858" stroke="#000" stroke-opacity="0.45" stroke-width="0.7"/>
<text class="st" x="496.6" y="111.2" textLength="15.3" lengthAdjust="spacingAndGlyphs">2.7</text>
<circle cx="533.5" cy="113.9" r="4.1" fill="#800000" stroke="#000" stroke-opacity="0.45" stroke-width="0.7"/>
<text class="st" x="533.5" y="109.9" textLength="15.3" lengthAdjust="spacingAndGlyphs">8.6</text>
<circle cx="447.6" cy="121.2" r="4.1" fill="#680000" stroke="#000" stroke-opacity="0.45" stroke-width="0.7"/>
<text class="st" x="447.6" y="117.2" textLength="15.3" lengthAdjust="spacingAndGlyphs">9.1</text>
<circle cx="572.5" cy="74.5" r="4.1" fill="#50E050" stroke="#000" stroke-opacity="0.45" stroke-width="0.7"/>
<text class="st" x="572.5" y="70.5" textLength="15.3" lengthAdjust="spacingAndGlyphs">2.5</text>
<circle cx="665.5" cy="88.9" r="4.1" fill="#80E858" stroke="#000" stroke-opacity="0.45" stroke-width="0.7"/>
<text class="st" x="665.5" y="84.9" textLength="15.3" lengthAdjust="spacingAndGlyphs">2.8</text>
<circle cx="639.4" cy="122.4" r="4.1" fill="#109838" stroke="#000" stroke-opacity="0.45" stroke-width="0.7"/>
<text class="st" x="639.4" y="118.4" textLength="15.3" lengthAdjust="spacingAndGlyphs">0.7</text>
<circle cx="143.4" cy="147.7" r="4.1" fill="#E6F546" stroke="#000" stroke-opacity="0.45" stroke-width="0.7"/>
<text class="st" x="143.4" y="143.7" textLength="15.3" lengthAdjust="spacingAndGlyphs">3.5</text>
<circle cx="273.3" cy="139.8" r="4.1" fill="#FFE534" stroke="#000" stroke-opacity="0.45" stroke-width="0.7"/>
<text class="st" x="273.3" y="135.8" textLength="15.3" lengthAdjust="spacingAndGlyphs">4.2</text>
<circle cx="192.3" cy="162.4" r="4.1" fill="#FFE534" stroke="#000" stroke-opacity="0.45" stroke-width="0.7"/>
<text class="st" x="192.3" y="158.4" textLength="15.3" lengthAdjust="spacingAndGlyphs">4.3</text>
<circle cx="215.4" cy="166.5" r="4.1" fill="#50E050" stroke="#000" stroke-opacity="0.45" stroke-width="0.7"/>
<text class="st" x="215.4" y="162.5" textLength="15.3" lengthAdjust="spacingAndGlyphs">2.4</text>
<circle cx="260.3" cy="160.3" r="4.1" fill="#ECF248" stroke="#000" stroke-opacity="0.45" stroke-width="0.7"/>
<text class="st" x="260.3" y="156.3" textLength="15.3" lengthAdjust="spacingAndGlyphs">3.6</text>
<circle cx="276.5" cy="170.0" r="4.1" fill="#80E858" stroke="#000" stroke-opacity="0.45" stroke-width="0.7"/>
<text class="st" x="276.5" y="166.0" textLength="15.3" lengthAdjust="spacingAndGlyphs">2.5</text>
<circle cx="253.2" cy="177.7" r="4.1" fill="#C0F060" stroke="#000" stroke-opacity="0.45" stroke-width="0.7"/>
<text class="st" x="253.2" y="173.7" textLength="15.3" lengthAdjust="spacingAndGlyphs">3.2</text>
<circle cx="298.6" cy="160.5" r="4.1" fill="#80E858" stroke="#000" stroke-opacity="0.45" stroke-width="0.7"/>
<text class="st" x="298.6" y="156.5" textLength="15.3" lengthAdjust="spacingAndGlyphs">3.0</text>
<circle cx="189.6" cy="194.0" r="4.1" fill="#FFC818" stroke="#000" stroke-opacity="0.45" stroke-width="0.7"/>
<text class="st" x="189.6" y="190.0" textLength="15.3" lengthAdjust="spacingAndGlyphs">4.6</text>
<circle cx="202.4" cy="192.3" r="4.1" fill="#F08000" stroke="#000" stroke-opacity="0.45" stroke-width="0.7"/>
<text class="st" x="202.4" y="188.3" textLength="15.3" lengthAdjust="spacingAndGlyphs">5.8</text>
<circle cx="218.6" cy="202.7" r="4.1" fill="#980000" stroke="#000" stroke-opacity="0.45" stroke-width="0.7"/>
<text class="st" x="218.6" y="198.7" textLength="15.3" lengthAdjust="spacingAndGlyphs">8.1</text>
<circle cx="284.0" cy="211.0" r="4.1" fill="#FFE534" stroke="#000" stroke-opacity="0.45" stroke-width="0.7"/>
<text class="st" x="284.0" y="207.0" textLength="15.3" lengthAdjust="spacingAndGlyphs">4.4</text>
<circle cx="293.8" cy="219.5" r="4.1" fill="#FFE534" stroke="#000" stroke-opacity="0.45" stroke-width="0.7"/>
<text class="st" x="293.8" y="215.5" textLength="15.3" lengthAdjust="spacingAndGlyphs">4.4</text>
<circle cx="313.0" cy="147.4" r="4.1" fill="#800000" stroke="#000" stroke-opacity="0.45" stroke-width="0.7"/>
<text class="st" x="313.0" y="143.4" textLength="15.3" lengthAdjust="spacingAndGlyphs">9.0</text>
<circle cx="315.6" cy="136.8" r="4.1" fill="#ECF248" stroke="#000" stroke-opacity="0.45" stroke-width="0.7"/>
<text class="st" x="315.6" y="132.8" textLength="15.3" lengthAdjust="spacingAndGlyphs">3.9</text>
<circle cx="325.8" cy="146.3" r="4.1" fill="#80E858" stroke="#000" stroke-opacity="0.45" stroke-width="0.7"/>
<text class="st" x="325.8" y="142.3" textLength="15.3" lengthAdjust="spacingAndGlyphs">2.9</text>
<circle cx="322.0" cy="170.0" r="4.1" fill="#80E858" stroke="#000" stroke-opacity="0.45" stroke-width="0.7"/>
<text class="st" x="322.0" y="166.0" textLength="15.3" lengthAdjust="spacingAndGlyphs">2.9</text>
<circle cx="320.4" cy="161.1" r="4.1" fill="#C0F060" stroke="#000" stroke-opacity="0.45" stroke-width="0.7"/>
<text class="st" x="320.4" y="157.1" textLength="15.3" lengthAdjust="spacingAndGlyphs">3.2</text>
<circle cx="329.9" cy="174.8" r="4.1" fill="#680000" stroke="#000" stroke-opacity="0.45" stroke-width="0.7"/>
<text class="st" x="329.9" y="170.8" textLength="15.3" lengthAdjust="spacingAndGlyphs">9.8</text>
<circle cx="338.4" cy="173.2" r="4.1" fill="#800000" stroke="#000" stroke-opacity="0.45" stroke-width="0.7"/>
<text class="st" x="338.4" y="169.2" textLength="15.3" lengthAdjust="spacingAndGlyphs">8.9</text>
<circle cx="359.6" cy="138.5" r="4.1" fill="#FFC818" stroke="#000" stroke-opacity="0.45" stroke-width="0.7"/>
<text class="st" x="359.6" y="134.5" textLength="15.3" lengthAdjust="spacingAndGlyphs">4.6</text>
<circle cx="373.5" cy="154.8" r="4.1" fill="#FFE534" stroke="#000" stroke-opacity="0.45" stroke-width="0.7"/>
<text class="st" x="373.5" y="150.8" textLength="15.3" lengthAdjust="spacingAndGlyphs">4.1</text>
<circle cx="395.2" cy="138.1" r="4.1" fill="#680000" stroke="#000" stroke-opacity="0.45" stroke-width="0.7"/>
<text class="st" x="395.2" y="134.1" textLength="21.8" lengthAdjust="spacingAndGlyphs">10.1</text>
<circle cx="415.5" cy="147.5" r="4.1" fill="#C0F060" stroke="#000" stroke-opacity="0.45" stroke-width="0.7"/>
<text class="st" x="415.5" y="143.5" textLength="15.3" lengthAdjust="spacingAndGlyphs">3.4</text>
<circle cx="421.5" cy="162.3" r="4.1" fill="#D82800" stroke="#000" stroke-opacity="0.45" stroke-width="0.7"/>
<text class="st" x="421.5" y="158.3" textLength="15.3" lengthAdjust="spacingAndGlyphs">6.6</text>
<circle cx="495.9" cy="149.3" r="4.1" fill="#FFE534" stroke="#000" stroke-opacity="0.45" stroke-width="0.7"/>
<text class="st" x="495.9" y="145.3" textLength="15.3" lengthAdjust="spacingAndGlyphs">4.1</text>
<circle cx="619.0" cy="158.4" r="4.1" fill="#80E858" stroke="#000" stroke-opacity="0.45" stroke-width="0.7"/>
<text class="st" x="619.0" y="154.4" textLength="15.3" lengthAdjust="spacingAndGlyphs">2.8</text>
<circle cx="563.5" cy="182.4" r="4.1" fill="#C0F060" stroke="#000" stroke-opacity="0.45" stroke-width="0.7"/>
<text class="st" x="563.5" y="178.4" textLength="15.3" lengthAdjust="spacingAndGlyphs">3.0</text>
<circle cx="80.6" cy="304.2" r="4.1" fill="#FFE534" stroke="#000" stroke-opacity="0.45" stroke-width="0.7"/>
<text class="st" x="80.6" y="300.2" textLength="15.3" lengthAdjust="spacingAndGlyphs">4.1</text>
<circle cx="169.5" cy="305.0" r="4.1" fill="#D82800" stroke="#000" stroke-opacity="0.45" stroke-width="0.7"/>
<text class="st" x="169.5" y="301.0" textLength="15.3" lengthAdjust="spacingAndGlyphs">6.9</text>
<circle cx="389.0" cy="257.4" r="4.1" fill="#F08000" stroke="#000" stroke-opacity="0.45" stroke-width="0.7"/>
<text class="st" x="389.0" y="253.4" textLength="15.3" lengthAdjust="spacingAndGlyphs">5.9</text>
<circle cx="331.2" cy="277.9" r="4.1" fill="#FFC818" stroke="#000" stroke-opacity="0.45" stroke-width="0.7"/>
<text class="st" x="331.2" y="273.9" textLength="15.3" lengthAdjust="spacingAndGlyphs">4.6</text>
<circle cx="313.7" cy="293.4" r="4.1" fill="#FFE534" stroke="#000" stroke-opacity="0.45" stroke-width="0.7"/>
<text class="st" x="313.7" y="289.4" textLength="15.3" lengthAdjust="spacingAndGlyphs">4.4</text>
<circle cx="347.2" cy="312.6" r="4.1" fill="#E85800" stroke="#000" stroke-opacity="0.45" stroke-width="0.7"/>
<text class="st" x="347.2" y="308.6" textLength="15.3" lengthAdjust="spacingAndGlyphs">6.0</text>
<circle cx="396.2" cy="316.2" r="4.1" fill="#FFE534" stroke="#000" stroke-opacity="0.45" stroke-width="0.7"/>
<text class="st" x="396.2" y="312.2" textLength="15.3" lengthAdjust="spacingAndGlyphs">4.3</text>
<circle cx="408.6" cy="310.0" r="4.1" fill="#ECF248" stroke="#000" stroke-opacity="0.45" stroke-width="0.7"/>
<text class="st" x="408.6" y="306.0" textLength="15.3" lengthAdjust="spacingAndGlyphs">4.0</text>
<circle cx="409.2" cy="322.8" r="4.1" fill="#ECF248" stroke="#000" stroke-opacity="0.45" stroke-width="0.7"/>
<text class="st" x="409.2" y="318.8" textLength="15.3" lengthAdjust="spacingAndGlyphs">3.8</text>
<circle cx="447.8" cy="308.5" r="4.1" fill="#ECF248" stroke="#000" stroke-opacity="0.45" stroke-width="0.7"/>
<text class="st" x="447.8" y="304.5" textLength="15.3" lengthAdjust="spacingAndGlyphs">3.8</text>
<circle cx="447.8" cy="326.4" r="4.1" fill="#ECF248" stroke="#000" stroke-opacity="0.45" stroke-width="0.7"/>
<text class="st" x="447.8" y="322.4" textLength="15.3" lengthAdjust="spacingAndGlyphs">3.8</text>
<circle cx="645.7" cy="232.5" r="4.1" fill="#FFC818" stroke="#000" stroke-opacity="0.45" stroke-width="0.7"/>
<text class="st" x="645.7" y="228.5" textLength="15.3" lengthAdjust="spacingAndGlyphs">4.7</text>
<circle cx="113.4" cy="379.0" r="4.1" fill="#E85800" stroke="#000" stroke-opacity="0.45" stroke-width="0.7"/>
<text class="st" x="113.4" y="375.0" textLength="15.3" lengthAdjust="spacingAndGlyphs">6.3</text>
<circle cx="105.4" cy="370.6" r="4.1" fill="#E85800" stroke="#000" stroke-opacity="0.45" stroke-width="0.7"/>
<text class="st" x="105.4" y="366.6" textLength="15.3" lengthAdjust="spacingAndGlyphs">6.3</text>
<circle cx="204.7" cy="358.6" r="4.1" fill="#F08000" stroke="#000" stroke-opacity="0.45" stroke-width="0.7"/>
<text class="st" x="204.7" y="354.6" textLength="15.3" lengthAdjust="spacingAndGlyphs">5.7</text>
<path class="grid" opacity="0.2" d="M94.5 45V397"/>
<path class="grid" opacity="0.2" d="M144.5 45V397"/>
<path class="grid" opacity="0.2" d="M194.5 45V397"/>
<path class="grid" opacity="0.2" d="M245.5 45V397"/>
<path class="grid" opacity="0.2" d="M295.5 45V397"/>
<path class="grid" opacity="0.2" d="M345.5 45V397"/>
<path class="grid" opacity="0.2" d="M396.5 45V397"/>
<path class="grid" opacity="0.2" d="M446.5 45V397"/>
<path class="grid" opacity="0.2" d="M496.5 45V397"/>
<path class="grid" opacity="0.2" d="M547.5 45V397"/>
<path class="grid" opacity="0.2" d="M597.5 45V397"/>
<path class="grid" opacity="0.2" d="M647.5 45V397"/>
<path class="grid" opacity="0.2" d="M44 74.5H698"/>
<path class="grid" opacity="0.2" d="M44 103.5H698"/>
<path class="grid" opacity="0.2" d="M44 132.5H698"/>
<path class="grid" opacity="0.2" d="M44 162.5H698"/>
<path class="grid" opacity="0.2" d="M44 191.5H698"/>
<path class="grid" opacity="0.2" d="M44 220.5H698"/>
<path class="grid" opacity="0.2" d="M44 250.5H698"/>
<path class="grid" opacity="0.2" d="M44 279.5H698"/>
<path class="grid" opacity="0.2" d="M44 308.5H698"/>
<path class="grid" opacity="0.2" d="M44 338.5H698"/>
<path class="grid" opacity="0.2" d="M44 367.5H698"/>
</g>
<rect x="44" y="45" width="654" height="352" fill="none" stroke="#000" stroke-width="1.8"/>
<path d="M44.0 397v3" stroke="#000" stroke-width="1.6"/>
<path d="M94.3 397v3" stroke="#000" stroke-width="1.6"/>
<path d="M144.6 397v3" stroke="#000" stroke-width="1.6"/>
<path d="M194.9 397v3" stroke="#000" stroke-width="1.6"/>
<path d="M245.2 397v3" stroke="#000" stroke-width="1.6"/>
<path d="M295.5 397v3" stroke="#000" stroke-width="1.6"/>
<path d="M345.8 397v3" stroke="#000" stroke-width="1.6"/>
<path d="M396.2 397v3" stroke="#000" stroke-width="1.6"/>
<path d="M446.5 397v3" stroke="#000" stroke-width="1.6"/>
<path d="M496.8 397v3" stroke="#000" stroke-width="1.6"/>
<path d="M547.1 397v3" stroke="#000" stroke-width="1.6"/>
<path d="M597.4 397v3" stroke="#000" stroke-width="1.6"/>
<path d="M647.7 397v3" stroke="#000" stroke-width="1.6"/>
<path d="M698.0 397v3" stroke="#000" stroke-width="1.6"/>
<path d="M44 45.0h-3.4" stroke="#000" stroke-width="1.6"/>
<path d="M44 74.3h-3.4" stroke="#000" stroke-width="1.6"/>
<path d="M44 103.7h-3.4" stroke="#000" stroke-width="1.6"/>
<path d="M44 133.0h-3.4" stroke="#000" stroke-width="1.6"/>
<path d="M44 162.3h-3.4" stroke="#000" stroke-width="1.6"/>
<path d="M44 191.7h-3.4" stroke="#000" stroke-width="1.6"/>
<path d="M44 221.0h-3.4" stroke="#000" stroke-width="1.6"/>
<path d="M44 250.3h-3.4" stroke="#000" stroke-width="1.6"/>
<path d="M44 279.7h-3.4" stroke="#000" stroke-width="1.6"/>
<path d="M44 309.0h-3.4" stroke="#000" stroke-width="1.6"/>
<path d="M44 338.3h-3.4" stroke="#000" stroke-width="1.6"/>
<path d="M44 367.7h-3.4" stroke="#000" stroke-width="1.6"/>
<path d="M44 397.0h-3.4" stroke="#000" stroke-width="1.6"/>
<text class="ax" x="38.2" y="48.0" text-anchor="end">49N</text>
<text class="ax" x="38.2" y="77.3" text-anchor="end">48.5N</text>
<text class="ax" x="38.2" y="106.7" text-anchor="end">48N</text>
<text class="ax" x="38.2" y="136.0" text-anchor="end">47.5N</text>
<text class="ax" x="38.2" y="165.3" text-anchor="end">47N</text>
<text class="ax" x="38.2" y="194.7" text-anchor="end">46.5N</text>
<text class="ax" x="38.2" y="224.0" text-anchor="end">46N</text>
<text class="ax" x="38.2" y="253.3" text-anchor="end">45.5N</text>
<text class="ax" x="38.2" y="282.7" text-anchor="end">45N</text>
<text class="ax" x="38.2" y="312.0" text-anchor="end">44.5N</text>
<text class="ax" x="38.2" y="341.3" text-anchor="end">44N</text>
<text class="ax" x="38.2" y="370.7" text-anchor="end">43.5N</text>
<text class="ax" x="38.2" y="400.0" text-anchor="end">43N</text>
<text class="ax" x="44.0" y="408.3" text-anchor="middle">4E</text>
<text class="ax" x="94.3" y="408.3" text-anchor="middle">5E</text>
<text class="ax" x="144.6" y="408.3" text-anchor="middle">6E</text>
<text class="ax" x="194.9" y="408.3" text-anchor="middle">7E</text>
<text class="ax" x="245.2" y="408.3" text-anchor="middle">8E</text>
<text class="ax" x="295.5" y="408.3" text-anchor="middle">9E</text>
<text class="ax" x="345.8" y="408.3" text-anchor="middle">10E</text>
<text class="ax" x="396.2" y="408.3" text-anchor="middle">11E</text>
<text class="ax" x="446.5" y="408.3" text-anchor="middle">12E</text>
<text class="ax" x="496.8" y="408.3" text-anchor="middle">13E</text>
<text class="ax" x="547.1" y="408.3" text-anchor="middle">14E</text>
<text class="ax" x="597.4" y="408.3" text-anchor="middle">15E</text>
<text class="ax" x="647.7" y="408.3" text-anchor="middle">16E</text>
<text class="ax" x="698.0" y="408.3" text-anchor="middle">17E</text>
<text class="thin" x="268.7" y="34" font-size="20.6" fill="#000" stroke="#fff" stroke-width="0.45" textLength="205" lengthAdjust="spacingAndGlyphs" >tnq10−A2b−Autumn</text>
<text class="thin" y="430.6" font-size="12.4" fill="#3a3a3a"><tspan x="168.9" textLength="30.3" lengthAdjust="spacingAndGlyphs">min</tspan> <tspan x="210.1" textLength="11.8" lengthAdjust="spacingAndGlyphs">=</tspan> <tspan x="231.6" textLength="30.5" lengthAdjust="spacingAndGlyphs">0.7,</tspan> <tspan x="272.8" textLength="44.6" lengthAdjust="spacingAndGlyphs">mean</tspan> <tspan x="327.2" textLength="13.1" lengthAdjust="spacingAndGlyphs">=</tspan> <tspan x="349.8" textLength="29.5" lengthAdjust="spacingAndGlyphs">4.6,</tspan> <tspan x="390.3" textLength="35.6" lengthAdjust="spacingAndGlyphs">max</tspan> <tspan x="435.5" textLength="12.5" lengthAdjust="spacingAndGlyphs">=</tspan> <tspan x="458.6" textLength="34.6" lengthAdjust="spacingAndGlyphs">10.1</tspan> <tspan x="505.2" textLength="15.5" lengthAdjust="spacingAndGlyphs">(n</tspan> <tspan x="530.9" textLength="13.4" lengthAdjust="spacingAndGlyphs">=</tspan> <tspan x="554.8" textLength="26.3" lengthAdjust="spacingAndGlyphs">60)</tspan> </text>
<path d="M165.5 445.5L139.3 451.4L165.5 457.2Z" fill="#109838" stroke="#000" stroke-width="1"/>
<rect x="165.50" y="445.5" width="25.64" height="11.7" fill="#18B040" stroke="#000" stroke-width="1"/>
<rect x="191.14" y="445.5" width="25.64" height="11.7" fill="#28C048" stroke="#000" stroke-width="1"/>
<rect x="216.78" y="445.5" width="25.64" height="11.7" fill="#50E050" stroke="#000" stroke-width="1"/>
<rect x="242.41" y="445.5" width="25.64" height="11.7" fill="#80E858" stroke="#000" stroke-width="1"/>
<rect x="268.05" y="445.5" width="25.64" height="11.7" fill="#C0F060" stroke="#000" stroke-width="1"/>
<rect x="293.69" y="445.5" width="25.64" height="11.7" fill="#ECF248" stroke="#000" stroke-width="1"/>
<rect x="319.33" y="445.5" width="25.64" height="11.7" fill="#FFE534" stroke="#000" stroke-width="1"/>
<rect x="344.96" y="445.5" width="25.64" height="11.7" fill="#FFC818" stroke="#000" stroke-width="1"/>
<rect x="370.60" y="445.5" width="25.64" height="11.7" fill="#FFA808" stroke="#000" stroke-width="1"/>
<rect x="396.24" y="445.5" width="25.64" height="11.7" fill="#F08000" stroke="#000" stroke-width="1"/>
<rect x="421.88" y="445.5" width="25.64" height="11.7" fill="#E85800" stroke="#000" stroke-width="1"/>
<rect x="447.51" y="445.5" width="25.64" height="11.7" fill="#D82800" stroke="#000" stroke-width="1"/>
<rect x="473.15" y="445.5" width="25.64" height="11.7" fill="#C80800" stroke="#000" stroke-width="1"/>
<rect x="498.79" y="445.5" width="25.64" height="11.7" fill="#B00000" stroke="#000" stroke-width="1"/>
<rect x="524.43" y="445.5" width="25.64" height="11.7" fill="#980000" stroke="#000" stroke-width="1"/>
<rect x="550.06" y="445.5" width="25.64" height="11.7" fill="#800000" stroke="#000" stroke-width="1"/>
<path d="M575.7 445.5L602.6 451.4L575.7 457.2Z" fill="#680000" stroke="#000" stroke-width="1"/>
<text class="cb" x="165.5" y="467" stroke="#000" stroke-width="0.3">1</text>
<text class="cb" x="191.1" y="467" stroke="#000" stroke-width="0.3">1.5</text>
<text class="cb" x="216.8" y="467" stroke="#000" stroke-width="0.3">2</text>
<text class="cb" x="242.4" y="467" stroke="#000" stroke-width="0.3">2.5</text>
<text class="cb" x="268.1" y="467" stroke="#000" stroke-width="0.3">3</text>
<text class="cb" x="293.7" y="467" stroke="#000" stroke-width="0.3">3.5</text>
<text class="cb" x="319.3" y="467" stroke="#000" stroke-width="0.3">4</text>
<text class="cb" x="345.0" y="467" stroke="#000" stroke-width="0.3">4.5</text>
<text class="cb" x="370.6" y="467" stroke="#000" stroke-width="0.3">5</text>
<text class="cb" x="396.2" y="467" stroke="#000" stroke-width="0.3">5.5</text>
<text class="cb" x="421.9" y="467" stroke="#000" stroke-width="0.3">6</text>
<text class="cb" x="447.5" y="467" stroke="#000" stroke-width="0.3">6.5</text>
<text class="cb" x="473.2" y="467" stroke="#000" stroke-width="0.3">7</text>
<text class="cb" x="498.8" y="467" stroke="#000" stroke-width="0.3">7.5</text>
<text class="cb" x="524.4" y="467" stroke="#000" stroke-width="0.3">8</text>
<text class="cb" x="550.1" y="467" stroke="#000" stroke-width="0.3">8.5</text>
<text class="cb" x="575.7" y="467" stroke="#000" stroke-width="0.3">9</text>
<text class="thin" y="488.3" font-size="7.5" fill="#222"><tspan x="47.2" textLength="7.0" lengthAdjust="spacingAndGlyphs">D.</tspan> <tspan x="60.2" textLength="40.8" lengthAdjust="spacingAndGlyphs">Gyalistras,</tspan> <tspan x="106.8" textLength="38.0" lengthAdjust="spacingAndGlyphs">University</tspan> <tspan x="150.7" textLength="6.6" lengthAdjust="spacingAndGlyphs">of</tspan> <tspan x="163.2" textLength="17.8" lengthAdjust="spacingAndGlyphs">Bern</tspan> </text>
<text class="thin" x="636.6" y="488.2" font-size="7.5" fill="#222" textLength="59.2" lengthAdjust="spacingAndGlyphs">28−July−2005</text>
</svg></body></html>
